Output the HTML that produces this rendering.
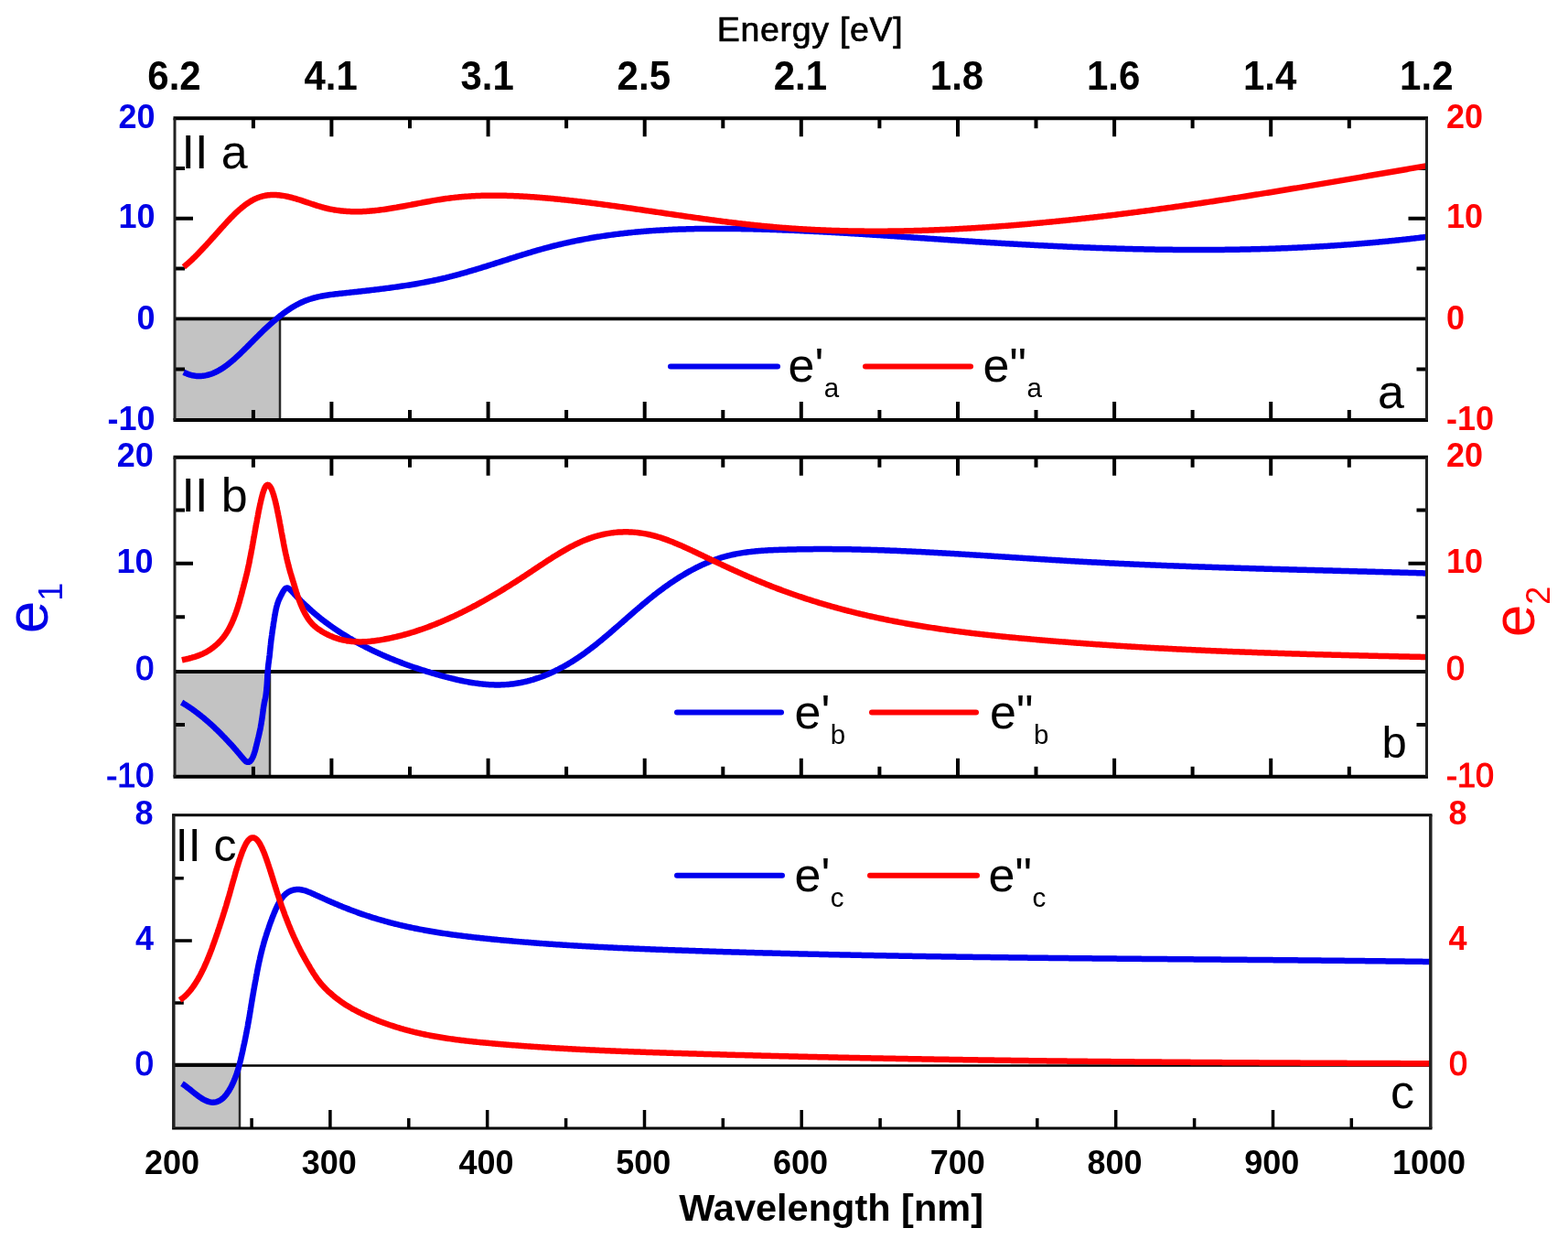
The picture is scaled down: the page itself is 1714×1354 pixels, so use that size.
<!DOCTYPE html><html><head><meta charset="utf-8"><title>Dielectric function</title><style>
html,body{margin:0;padding:0;background:#fff;width:1714px;height:1354px;overflow:hidden}
svg{display:block}
text{font-family:"Liberation Sans",Arial,sans-serif}
.b{font-weight:bold}
</style></head><body>
<svg width="1714" height="1354" viewBox="0 0 1714 1354">
<rect width="1714" height="1354" fill="#fff"/>
<rect x="191.0" y="348.4" width="115.0" height="110.6" fill="#c3c3c3"/>
<line x1="306.0" y1="348.4" x2="306.0" y2="459.0" stroke="#2a2a2a" stroke-width="2.5"/>
<line x1="191.0" y1="348.4" x2="1559.5" y2="348.4" stroke="#000" stroke-width="3.8"/>
<path d="M276.9,129.2v11.0M276.9,459.0v-11.0M362.4,129.2v20.0M362.4,459.0v-20.0M448.0,129.2v11.0M448.0,459.0v-11.0M533.6,129.2v20.0M533.6,459.0v-20.0M619.1,129.2v11.0M619.1,459.0v-11.0M704.7,129.2v20.0M704.7,459.0v-20.0M790.3,129.2v11.0M790.3,459.0v-11.0M875.8,129.2v20.0M875.8,459.0v-20.0M961.4,129.2v11.0M961.4,459.0v-11.0M1047.0,129.2v20.0M1047.0,459.0v-20.0M1132.5,129.2v11.0M1132.5,459.0v-11.0M1218.1,129.2v20.0M1218.1,459.0v-20.0M1303.6,129.2v11.0M1303.6,459.0v-11.0M1389.2,129.2v20.0M1389.2,459.0v-20.0M1474.8,129.2v11.0M1474.8,459.0v-11.0M191.0,184.1h11.0M1559.5,184.1h-11.0M191.0,238.8h20.0M1559.5,238.8h-20.0M191.0,293.6h11.0M1559.5,293.6h-11.0M191.0,403.6h11.0M1559.5,403.6h-11.0" stroke="#000" stroke-width="4.0" fill="none"/>
<path d="M200.8,406.79L202.2,407.44L203.6,408.06L205.0,408.62L206.4,409.12L207.8,409.57L209.3,409.96L210.7,410.28L212.2,410.55L213.7,410.75L215.2,410.90L216.7,410.97L218.2,410.98L219.7,410.93L221.2,410.82L222.7,410.65L224.1,410.42L225.6,410.13L227.1,409.79L228.5,409.39L230.0,408.94L231.4,408.45L232.8,407.92L234.2,407.33L235.5,406.72L236.9,406.07L238.2,405.37L239.5,404.66L240.8,403.90L242.1,403.14L243.4,402.31L244.6,401.48L245.8,400.64L247.1,399.74L248.3,398.85L249.5,397.93L250.6,397.02L251.8,396.05L253.0,395.10L254.1,394.12L255.2,393.17L256.4,392.16L257.5,391.18L258.6,390.18L259.7,389.16L260.8,388.14L261.9,387.10L263.0,386.05L264.0,385.03L265.1,383.96L266.2,382.93L267.3,381.85L268.3,380.81L269.4,379.76L270.4,378.71L271.5,377.60L272.6,376.54L273.6,375.48L274.7,374.42L275.7,373.36L276.8,372.30L277.8,371.24L278.9,370.18L280.0,369.08L281.0,368.03L282.1,366.99L283.1,365.95L284.2,364.87L285.3,363.84L286.4,362.77L287.4,361.76L288.5,360.71L289.6,359.67L290.7,358.64L291.8,357.62L292.9,356.60L294.0,355.60L295.1,354.61L296.3,353.58L297.4,352.61L298.5,351.61L299.6,350.66L300.8,349.68L301.9,348.71L303.1,347.76L304.3,346.79L305.4,345.86L306.6,344.92L307.8,344.03L309.0,343.11L310.2,342.22L311.4,341.34L312.6,340.44L313.8,339.60L315.1,338.74L316.3,337.91L317.6,337.10L318.8,336.31L320.1,335.51L321.4,334.73L322.7,333.98L324.0,333.26L325.3,332.56L326.7,331.87L328.0,331.20L329.4,330.57L330.8,329.94L332.1,329.36L333.5,328.79L334.9,328.25L336.3,327.74L337.7,327.25L339.2,326.77L340.6,326.34L342.0,325.91L343.5,325.51L344.9,325.13L346.4,324.77L347.9,324.42L349.3,324.10L350.8,323.80L352.3,323.51L353.7,323.24L355.2,322.98L356.7,322.74L358.2,322.51L359.7,322.29L361.1,322.09L362.6,321.89L364.1,321.70L365.6,321.52L367.1,321.35L368.6,321.18L370.1,321.01L371.6,320.85L373.1,320.68L374.6,320.52L376.0,320.36L377.5,320.20L379.0,320.04L380.5,319.87L382.0,319.71L383.5,319.55L385.0,319.39L386.5,319.23L388.0,319.06L389.5,318.90L391.0,318.74L392.4,318.58L393.9,318.41L395.4,318.24L396.9,318.08L398.4,317.91L399.9,317.75L401.4,317.58L402.9,317.41L404.4,317.23L405.9,317.06L407.3,316.89L408.8,316.71L410.3,316.54L411.8,316.36L413.3,316.18L414.8,316.00L416.3,315.81L417.8,315.63L419.3,315.44L420.8,315.25L422.2,315.06L423.7,314.87L425.2,314.67L426.7,314.48L428.2,314.28L429.7,314.07L431.2,313.87L432.6,313.66L434.1,313.45L435.6,313.24L437.1,313.02L438.6,312.80L440.1,312.58L441.5,312.36L443.0,312.13L444.5,311.90L446.0,311.67L447.5,311.43L449.0,311.18L450.4,310.94L451.9,310.69L453.4,310.45L454.9,310.19L456.4,309.93L457.8,309.67L459.3,309.40L460.8,309.13L462.3,308.85L463.7,308.58L465.2,308.29L466.7,308.01L468.1,307.73L469.6,307.42L471.1,307.13L472.6,306.82L474.0,306.52L475.5,306.21L477.0,305.88L478.4,305.56L479.9,305.24L481.3,304.91L482.8,304.57L484.3,304.23L485.7,303.89L487.2,303.54L488.6,303.18L490.1,302.81L491.6,302.45L493.0,302.08L494.5,301.71L495.9,301.33L497.4,300.95L498.8,300.56L500.3,300.17L501.7,299.77L503.2,299.37L504.6,298.97L506.0,298.58L507.5,298.17L508.9,297.75L510.4,297.34L511.8,296.91L513.3,296.49L514.7,296.08L516.1,295.65L517.6,295.22L519.0,294.78L520.4,294.36L521.9,293.92L523.3,293.48L524.7,293.05L526.2,292.60L527.6,292.16L529.0,291.72L530.5,291.27L531.9,290.82L533.3,290.38L534.8,289.92L536.2,289.47L537.6,289.02L539.1,288.57L540.5,288.12L541.9,287.66L543.4,287.20L544.8,286.76L546.2,286.30L547.6,285.85L549.1,285.39L550.5,284.93L551.9,284.48L553.4,284.02L554.8,283.58L556.2,283.11L557.6,282.67L559.1,282.21L560.5,281.75L561.9,281.31L563.4,280.86L564.8,280.40L566.2,279.97L567.7,279.51L569.1,279.08L570.5,278.63L572.0,278.19L573.4,277.76L574.8,277.31L576.3,276.87L577.7,276.44L579.1,276.02L580.6,275.58L582.0,275.15L583.5,274.73L584.9,274.32L586.3,273.90L587.8,273.48L589.2,273.07L590.7,272.65L592.1,272.25L593.6,271.84L595.0,271.46L596.4,271.06L597.9,270.67L599.3,270.28L600.8,269.90L602.2,269.52L603.7,269.15L605.2,268.76L606.6,268.40L608.1,268.04L609.5,267.68L611.0,267.33L612.4,266.98L613.9,266.64L615.4,266.29L616.8,265.96L618.3,265.63L619.7,265.30L621.2,264.97L622.7,264.65L624.1,264.34L625.6,264.02L627.1,263.71L628.5,263.41L630.0,263.10L631.5,262.81L633.0,262.51L634.4,262.23L635.9,261.95L637.4,261.66L638.8,261.39L640.3,261.11L641.8,260.85L643.3,260.58L644.7,260.32L646.2,260.06L647.7,259.81L649.2,259.56L650.7,259.31L652.1,259.08L653.6,258.83L655.1,258.60L656.6,258.37L658.1,258.14L659.6,257.91L661.0,257.70L662.5,257.48L664.0,257.27L665.5,257.06L667.0,256.85L668.5,256.65L670.0,256.45L671.4,256.26L672.9,256.07L674.4,255.88L675.9,255.69L677.4,255.51L678.9,255.33L680.4,255.16L681.9,254.99L683.4,254.82L684.8,254.66L686.3,254.50L687.8,254.34L689.3,254.18L690.8,254.03L692.3,253.88L693.8,253.74L695.3,253.60L696.8,253.46L698.3,253.32L699.8,253.19L701.3,253.06L702.8,252.93L704.3,252.81L705.8,252.69L707.2,252.57L708.7,252.46L710.2,252.34L711.7,252.24L713.2,252.13L714.7,252.03L716.2,251.92L717.7,251.83L719.2,251.73L720.7,251.64L722.2,251.55L723.7,251.46L725.2,251.38L726.7,251.30L728.2,251.22L729.7,251.14L731.2,251.07L732.7,251.00L734.2,250.93L735.7,250.86L737.2,250.80L738.7,250.74L740.2,250.68L741.7,250.62L743.2,250.57L744.7,250.52L746.2,250.47L747.7,250.42L749.2,250.38L750.7,250.33L752.2,250.29L753.7,250.25L755.2,250.22L756.7,250.18L758.2,250.15L759.7,250.12L761.2,250.09L762.7,250.07L764.2,250.04L765.7,250.02L767.2,250.00L768.7,249.98L770.2,249.97L771.7,249.95L773.2,249.94L774.7,249.93L776.2,249.92L777.7,249.91L779.2,249.90L780.7,249.90L782.2,249.90L783.7,249.90L785.2,249.90L786.7,249.90L788.2,249.91L789.7,249.91L791.2,249.92L792.7,249.93L794.2,249.94L795.7,249.95L797.2,249.96L798.7,249.98L800.2,249.99L801.7,250.01L803.2,250.03L804.7,250.05L806.2,250.07L807.7,250.09L809.2,250.11L810.7,250.14L812.2,250.16L813.7,250.19L815.2,250.22L816.7,250.24L818.2,250.27L819.7,250.31L821.2,250.34L822.7,250.37L824.2,250.41L825.7,250.44L827.2,250.48L828.7,250.52L830.2,250.56L831.7,250.60L833.2,250.64L834.7,250.68L836.2,250.72L837.7,250.77L839.2,250.81L840.7,250.86L842.2,250.91L843.7,250.95L845.2,251.00L846.7,251.05L848.2,251.11L849.7,251.16L851.2,251.21L852.7,251.26L854.2,251.32L855.7,251.38L857.2,251.43L858.7,251.49L860.2,251.55L861.7,251.61L863.2,251.67L864.7,251.73L866.2,251.79L867.7,251.86L869.1,251.92L870.6,251.98L872.1,252.05L873.6,252.11L875.1,252.18L876.6,252.25L878.1,252.32L879.6,252.39L881.1,252.46L882.6,252.53L884.1,252.60L885.6,252.67L887.1,252.75L888.6,252.82L890.1,252.89L891.6,252.97L893.1,253.05L894.6,253.12L896.1,253.20L897.6,253.28L899.1,253.36L900.6,253.44L902.1,253.52L903.6,253.60L905.1,253.68L906.6,253.76L908.1,253.84L909.6,253.92L911.1,254.01L912.6,254.09L914.1,254.18L915.6,254.26L917.1,254.35L918.6,254.43L920.1,254.52L921.6,254.61L923.1,254.70L924.6,254.79L926.1,254.87L927.6,254.96L929.1,255.05L930.6,255.14L932.1,255.24L933.6,255.33L935.1,255.42L936.6,255.51L938.1,255.60L939.5,255.69L941.0,255.79L942.5,255.88L944.0,255.98L945.5,256.07L947.0,256.17L948.5,256.26L950.0,256.36L951.5,256.45L953.0,256.55L954.5,256.65L956.0,256.74L957.5,256.84L959.0,256.94L960.5,257.04L962.0,257.13L963.5,257.23L965.0,257.33L966.5,257.43L968.0,257.53L969.5,257.63L971.0,257.73L972.5,257.83L974.0,257.93L975.5,258.03L977.0,258.13L978.5,258.23L980.0,258.33L981.5,258.43L983.0,258.53L984.5,258.63L985.9,258.73L987.4,258.83L988.9,258.93L990.4,259.04L991.9,259.14L993.4,259.24L994.9,259.34L996.4,259.44L997.9,259.55L999.4,259.65L1000.9,259.75L1002.4,259.85L1003.9,259.96L1005.4,260.06L1006.9,260.16L1008.4,260.26L1009.9,260.36L1011.4,260.46L1012.9,260.57L1014.4,260.67L1015.9,260.77L1017.4,260.87L1018.9,260.97L1020.4,261.08L1021.9,261.18L1023.4,261.28L1024.9,261.38L1026.4,261.48L1027.9,261.59L1029.3,261.68L1030.8,261.78L1032.3,261.89L1033.8,261.99L1035.3,262.09L1036.8,262.19L1038.3,262.29L1039.8,262.39L1041.3,262.49L1042.8,262.59L1044.3,262.69L1045.8,262.79L1047.3,262.89L1048.8,262.99L1050.3,263.08L1051.8,263.18L1053.3,263.28L1054.8,263.38L1056.3,263.47L1057.8,263.57L1059.3,263.67L1060.8,263.76L1062.3,263.86L1063.8,263.96L1065.3,264.05L1066.8,264.15L1068.3,264.24L1069.8,264.34L1071.3,264.43L1072.8,264.53L1074.3,264.62L1075.7,264.71L1077.2,264.80L1078.7,264.89L1080.2,264.99L1081.7,265.08L1083.2,265.17L1084.7,265.26L1086.2,265.35L1087.7,265.44L1089.2,265.53L1090.7,265.62L1092.2,265.71L1093.7,265.80L1095.2,265.89L1096.7,265.98L1098.2,266.07L1099.7,266.15L1101.2,266.24L1102.7,266.33L1104.2,266.41L1105.7,266.50L1107.2,266.58L1108.7,266.67L1110.2,266.75L1111.7,266.84L1113.2,266.92L1114.7,267.00L1116.2,267.09L1117.7,267.17L1119.2,267.25L1120.7,267.33L1122.2,267.41L1123.7,267.50L1125.2,267.58L1126.7,267.66L1128.2,267.74L1129.7,267.81L1131.2,267.89L1132.7,267.97L1134.2,268.05L1135.7,268.13L1137.1,268.20L1138.6,268.28L1140.1,268.35L1141.6,268.43L1143.1,268.50L1144.6,268.58L1146.1,268.65L1147.6,268.72L1149.1,268.80L1150.6,268.87L1152.1,268.94L1153.6,269.01L1155.1,269.08L1156.6,269.15L1158.1,269.22L1159.6,269.29L1161.1,269.36L1162.6,269.43L1164.1,269.50L1165.6,269.56L1167.1,269.63L1168.6,269.70L1170.1,269.76L1171.6,269.83L1173.1,269.89L1174.6,269.95L1176.1,270.02L1177.6,270.08L1179.1,270.14L1180.6,270.20L1182.1,270.27L1183.6,270.33L1185.1,270.38L1186.6,270.44L1188.1,270.50L1189.6,270.56L1191.1,270.62L1192.6,270.67L1194.1,270.73L1195.6,270.79L1197.1,270.84L1198.6,270.90L1200.1,270.95L1201.6,271.00L1203.1,271.06L1204.6,271.11L1206.1,271.16L1207.6,271.21L1209.1,271.26L1210.6,271.31L1212.1,271.36L1213.6,271.41L1215.1,271.46L1216.6,271.50L1218.1,271.55L1219.6,271.60L1221.1,271.64L1222.6,271.68L1224.1,271.73L1225.6,271.77L1227.1,271.81L1228.6,271.86L1230.1,271.90L1231.6,271.94L1233.1,271.98L1234.6,272.02L1236.1,272.06L1237.6,272.09L1239.1,272.13L1240.6,272.17L1242.1,272.20L1243.6,272.24L1245.1,272.27L1246.6,272.30L1248.1,272.34L1249.6,272.37L1251.1,272.40L1252.6,272.43L1254.1,272.46L1255.6,272.49L1257.1,272.52L1258.6,272.55L1260.1,272.57L1261.6,272.60L1263.1,272.63L1264.6,272.65L1266.1,272.67L1267.6,272.70L1269.1,272.72L1270.6,272.74L1272.1,272.76L1273.6,272.78L1275.1,272.80L1276.6,272.82L1278.1,272.84L1279.6,272.86L1281.1,272.87L1282.6,272.89L1284.1,272.90L1285.6,272.92L1287.1,272.93L1288.6,272.94L1290.1,272.95L1291.6,272.97L1293.1,272.98L1294.6,272.98L1296.1,272.99L1297.6,273.00L1299.1,273.01L1300.6,273.01L1302.1,273.02L1303.6,273.02L1305.1,273.03L1306.6,273.03L1308.1,273.03L1309.6,273.03L1311.1,273.03L1312.6,273.03L1314.1,273.03L1315.6,273.03L1317.1,273.02L1318.6,273.02L1320.1,273.01L1321.6,273.01L1323.1,273.00L1324.6,272.99L1326.1,272.98L1327.6,272.98L1329.1,272.96L1330.6,272.95L1332.1,272.94L1333.6,272.93L1335.1,272.91L1336.6,272.90L1338.1,272.88L1339.6,272.87L1341.1,272.85L1342.6,272.83L1344.1,272.81L1345.6,272.79L1347.1,272.77L1348.6,272.75L1350.1,272.73L1351.6,272.70L1353.1,272.68L1354.6,272.65L1356.1,272.62L1357.6,272.60L1359.1,272.57L1360.6,272.54L1362.1,272.51L1363.6,272.47L1365.1,272.44L1366.6,272.41L1368.1,272.37L1369.6,272.34L1371.1,272.30L1372.6,272.26L1374.1,272.23L1375.6,272.19L1377.1,272.15L1378.6,272.11L1380.1,272.06L1381.6,272.02L1383.1,271.97L1384.6,271.93L1386.1,271.88L1387.6,271.84L1389.1,271.79L1390.5,271.74L1392.0,271.69L1393.5,271.64L1395.0,271.59L1396.5,271.53L1398.0,271.48L1399.5,271.42L1401.0,271.36L1402.5,271.31L1404.0,271.25L1405.5,271.19L1407.0,271.13L1408.5,271.07L1410.0,271.00L1411.5,270.94L1413.0,270.87L1414.5,270.81L1416.0,270.74L1417.5,270.67L1419.0,270.60L1420.5,270.53L1422.0,270.46L1423.5,270.39L1425.0,270.31L1426.5,270.24L1428.0,270.16L1429.5,270.09L1431.0,270.01L1432.5,269.93L1434.0,269.85L1435.5,269.77L1437.0,269.69L1438.5,269.60L1440.0,269.52L1441.5,269.43L1443.0,269.35L1444.5,269.26L1446.0,269.17L1447.5,269.08L1449.0,268.99L1450.5,268.89L1452.0,268.80L1453.5,268.71L1455.0,268.61L1456.5,268.51L1458.0,268.41L1459.5,268.31L1461.0,268.21L1462.5,268.11L1464.0,268.01L1465.4,267.91L1466.9,267.80L1468.4,267.69L1469.9,267.59L1471.4,267.48L1472.9,267.37L1474.4,267.26L1475.9,267.14L1477.4,267.03L1478.9,266.91L1480.4,266.80L1481.9,266.68L1483.4,266.57L1484.9,266.45L1486.4,266.32L1487.9,266.20L1489.4,266.08L1490.9,265.95L1492.4,265.83L1493.9,265.70L1495.4,265.57L1496.9,265.44L1498.3,265.32L1499.8,265.18L1501.3,265.05L1502.8,264.91L1504.3,264.78L1505.8,264.64L1507.3,264.50L1508.8,264.36L1510.3,264.23L1511.8,264.08L1513.3,263.94L1514.8,263.80L1516.3,263.65L1517.8,263.50L1519.3,263.35L1520.7,263.21L1522.2,263.06L1523.7,262.90L1525.2,262.75L1526.7,262.59L1528.2,262.44L1529.7,262.29L1531.2,262.13L1532.7,261.97L1534.2,261.80L1535.7,261.64L1537.2,261.48L1538.6,261.32L1540.1,261.15L1541.6,260.98L1543.1,260.81L1544.6,260.64L1546.1,260.47L1547.6,260.30L1549.1,260.12L1550.6,259.95L1552.1,259.77L1553.5,259.60L1555.0,259.41L1556.5,259.23L1558.0,259.05L1559.5,258.86L1559.6,258.85" stroke="#0000ee" stroke-width="6.5" fill="none" stroke-linejoin="round"/>
<path d="M200.8,291.78L202.0,290.78L203.1,289.85L204.3,288.85L205.4,287.83L206.5,286.84L207.6,285.83L208.7,284.81L209.8,283.77L210.9,282.77L212.0,281.70L213.0,280.67L214.1,279.58L215.2,278.52L216.2,277.46L217.3,276.38L218.3,275.29L219.3,274.25L220.4,273.15L221.4,272.04L222.4,270.97L223.5,269.84L224.5,268.76L225.5,267.68L226.5,266.53L227.5,265.44L228.5,264.34L229.5,263.24L230.5,262.13L231.5,261.02L232.6,259.85L233.6,258.73L234.6,257.62L235.6,256.50L236.6,255.38L237.6,254.26L238.6,253.14L239.6,252.02L240.6,250.90L241.6,249.79L242.6,248.67L243.6,247.56L244.6,246.46L245.6,245.36L246.6,244.27L247.6,243.12L248.6,242.05L249.6,240.98L250.7,239.86L251.7,238.76L252.8,237.68L253.8,236.61L254.9,235.55L255.9,234.51L257.0,233.48L258.1,232.43L259.2,231.40L260.3,230.39L261.4,229.40L262.5,228.40L263.7,227.42L264.8,226.47L266.0,225.55L267.2,224.62L268.4,223.72L269.6,222.85L270.8,221.99L272.1,221.16L273.3,220.37L274.6,219.59L275.9,218.86L277.3,218.14L278.6,217.47L280.0,216.86L281.4,216.27L282.8,215.74L284.2,215.26L285.6,214.81L287.1,214.42L288.5,214.08L290.0,213.78L291.5,213.53L293.0,213.33L294.4,213.18L295.9,213.07L297.4,213.01L298.9,212.99L300.4,213.00L301.9,213.06L303.4,213.16L304.9,213.29L306.4,213.46L307.9,213.66L309.4,213.88L310.9,214.14L312.3,214.42L313.8,214.73L315.3,215.05L316.7,215.40L318.2,215.76L319.6,216.14L321.1,216.54L322.5,216.95L324.0,217.38L325.4,217.82L326.8,218.25L328.3,218.71L329.7,219.16L331.1,219.64L332.5,220.10L334.0,220.58L335.4,221.05L336.8,221.54L338.2,222.01L339.7,222.49L341.1,222.96L342.5,223.44L343.9,223.89L345.4,224.36L346.8,224.80L348.2,225.24L349.7,225.68L351.1,226.09L352.5,226.50L354.0,226.89L355.4,227.27L356.9,227.63L358.4,227.98L359.8,228.30L361.3,228.61L362.8,228.90L364.2,229.17L365.7,229.43L367.2,229.66L368.7,229.88L370.2,230.08L371.7,230.27L373.1,230.43L374.6,230.59L376.1,230.72L377.6,230.84L379.1,230.95L380.6,231.04L382.1,231.11L383.6,231.17L385.1,231.21L386.6,231.24L388.1,231.26L389.6,231.26L391.1,231.25L392.6,231.22L394.1,231.19L395.6,231.14L397.1,231.07L398.6,231.00L400.1,230.92L401.6,230.82L403.1,230.71L404.6,230.60L406.1,230.47L407.6,230.34L409.1,230.19L410.6,230.03L412.1,229.87L413.5,229.70L415.0,229.52L416.5,229.33L418.0,229.13L419.5,228.92L421.0,228.72L422.5,228.50L424.0,228.28L425.4,228.05L426.9,227.81L428.4,227.58L429.9,227.33L431.4,227.08L432.8,226.83L434.3,226.57L435.8,226.31L437.3,226.05L438.7,225.78L440.2,225.51L441.7,225.24L443.2,224.96L444.6,224.68L446.1,224.40L447.6,224.12L449.1,223.84L450.5,223.56L452.0,223.27L453.5,222.99L455.0,222.70L456.4,222.42L457.9,222.14L459.4,221.86L460.8,221.58L462.3,221.30L463.8,221.03L465.3,220.75L466.7,220.48L468.2,220.20L469.7,219.94L471.2,219.67L472.7,219.41L474.1,219.16L475.6,218.90L477.1,218.66L478.6,218.41L480.0,218.18L481.5,217.94L483.0,217.71L484.5,217.50L486.0,217.28L487.5,217.07L489.0,216.86L490.4,216.67L491.9,216.48L493.4,216.30L494.9,216.12L496.4,215.96L497.9,215.80L499.4,215.64L500.9,215.49L502.4,215.35L503.9,215.21L505.4,215.08L506.8,214.96L508.3,214.84L509.8,214.73L511.3,214.62L512.8,214.52L514.3,214.42L515.8,214.34L517.3,214.25L518.8,214.18L520.3,214.10L521.8,214.04L523.3,213.98L524.8,213.92L526.3,213.87L527.8,213.83L529.3,213.79L530.8,213.76L532.3,213.73L533.8,213.71L535.3,213.69L536.8,213.67L538.3,213.67L539.8,213.66L541.3,213.66L542.8,213.67L544.3,213.68L545.8,213.69L547.3,213.71L548.8,213.74L550.3,213.77L551.8,213.80L553.3,213.83L554.8,213.88L556.3,213.92L557.8,213.97L559.3,214.02L560.8,214.08L562.3,214.14L563.8,214.20L565.3,214.27L566.8,214.34L568.3,214.42L569.8,214.50L571.3,214.58L572.8,214.66L574.3,214.75L575.8,214.84L577.3,214.94L578.8,215.04L580.3,215.14L581.8,215.24L583.3,215.35L584.8,215.46L586.3,215.57L587.8,215.69L589.3,215.81L590.7,215.93L592.2,216.05L593.7,216.17L595.2,216.30L596.7,216.43L598.2,216.57L599.7,216.70L601.2,216.84L602.7,216.98L604.2,217.11L605.7,217.26L607.2,217.40L608.7,217.55L610.2,217.70L611.7,217.85L613.2,218.00L614.6,218.15L616.1,218.31L617.6,218.47L619.1,218.63L620.6,218.79L622.1,218.95L623.6,219.11L625.1,219.28L626.6,219.45L628.1,219.62L629.6,219.79L631.0,219.96L632.5,220.13L634.0,220.31L635.5,220.48L637.0,220.66L638.5,220.84L640.0,221.02L641.5,221.20L643.0,221.39L644.4,221.57L645.9,221.75L647.4,221.94L648.9,222.13L650.4,222.32L651.9,222.51L653.4,222.70L654.9,222.90L656.4,223.09L657.8,223.28L659.3,223.48L660.8,223.68L662.3,223.88L663.8,224.08L665.3,224.28L666.8,224.48L668.2,224.68L669.7,224.88L671.2,225.09L672.7,225.29L674.2,225.49L675.7,225.70L677.2,225.91L678.6,226.11L680.1,226.32L681.6,226.53L683.1,226.75L684.6,226.95L686.1,227.16L687.6,227.38L689.0,227.58L690.5,227.80L692.0,228.01L693.5,228.22L695.0,228.44L696.5,228.66L698.0,228.87L699.4,229.08L700.9,229.30L702.4,229.52L703.9,229.73L705.4,229.95L706.9,230.17L708.3,230.38L709.8,230.60L711.3,230.82L712.8,231.03L714.3,231.25L715.8,231.47L717.2,231.68L718.7,231.90L720.2,232.12L721.7,232.34L723.2,232.55L724.7,232.77L726.2,232.99L727.6,233.21L729.1,233.43L730.6,233.65L732.1,233.86L733.6,234.08L735.1,234.30L736.5,234.51L738.0,234.73L739.5,234.94L741.0,235.15L742.5,235.37L744.0,235.59L745.4,235.80L746.9,236.01L748.4,236.23L749.9,236.45L751.4,236.65L752.9,236.87L754.4,237.08L755.8,237.29L757.3,237.50L758.8,237.71L760.3,237.92L761.8,238.13L763.3,238.34L764.8,238.55L766.2,238.75L767.7,238.96L769.2,239.16L770.7,239.36L772.2,239.57L773.7,239.77L775.2,239.98L776.6,240.17L778.1,240.37L779.6,240.57L781.1,240.77L782.6,240.97L784.1,241.16L785.6,241.36L787.1,241.55L788.5,241.74L790.0,241.94L791.5,242.13L793.0,242.32L794.5,242.50L796.0,242.69L797.5,242.88L799.0,243.06L800.4,243.24L801.9,243.42L803.4,243.60L804.9,243.78L806.4,243.96L807.9,244.13L809.4,244.31L810.9,244.48L812.4,244.66L813.9,244.83L815.3,244.99L816.8,245.16L818.3,245.33L819.8,245.49L821.3,245.65L822.8,245.81L824.3,245.97L825.8,246.13L827.3,246.28L828.8,246.44L830.3,246.59L831.8,246.74L833.2,246.88L834.7,247.03L836.2,247.17L837.7,247.32L839.2,247.46L840.7,247.59L842.2,247.73L843.7,247.86L845.2,247.99L846.7,248.12L848.2,248.25L849.7,248.38L851.2,248.50L852.7,248.63L854.2,248.75L855.7,248.87L857.2,248.98L858.6,249.09L860.1,249.21L861.6,249.32L863.1,249.43L864.6,249.53L866.1,249.64L867.6,249.74L869.1,249.84L870.6,249.94L872.1,250.04L873.6,250.14L875.1,250.23L876.6,250.32L878.1,250.41L879.6,250.50L881.1,250.58L882.6,250.67L884.1,250.75L885.6,250.83L887.1,250.91L888.6,250.99L890.1,251.06L891.6,251.14L893.1,251.21L894.6,251.28L896.1,251.35L897.6,251.41L899.1,251.48L900.6,251.54L902.1,251.60L903.6,251.66L905.1,251.72L906.6,251.77L908.1,251.83L909.6,251.88L911.1,251.93L912.6,251.98L914.1,252.03L915.6,252.07L917.1,252.12L918.6,252.16L920.1,252.20L921.6,252.24L923.1,252.27L924.6,252.31L926.1,252.34L927.6,252.38L929.1,252.41L930.6,252.44L932.1,252.46L933.6,252.49L935.1,252.51L936.6,252.53L938.1,252.56L939.6,252.57L941.1,252.59L942.6,252.61L944.1,252.62L945.6,252.64L947.1,252.65L948.6,252.66L950.1,252.66L951.6,252.67L953.1,252.68L954.6,252.68L956.1,252.68L957.6,252.68L959.1,252.68L960.6,252.68L962.1,252.67L963.6,252.67L965.1,252.66L966.6,252.65L968.1,252.64L969.6,252.63L971.1,252.62L972.6,252.60L974.1,252.59L975.6,252.57L977.1,252.55L978.6,252.53L980.1,252.51L981.6,252.49L983.1,252.46L984.6,252.44L986.1,252.41L987.6,252.38L989.1,252.35L990.6,252.32L992.1,252.29L993.6,252.25L995.1,252.22L996.6,252.18L998.1,252.14L999.6,252.10L1001.1,252.06L1002.6,252.02L1004.1,251.98L1005.6,251.93L1007.1,251.89L1008.5,251.84L1010.0,251.79L1011.5,251.74L1013.0,251.69L1014.5,251.64L1016.0,251.59L1017.5,251.53L1019.0,251.47L1020.5,251.42L1022.0,251.36L1023.5,251.30L1025.0,251.24L1026.5,251.17L1028.0,251.11L1029.5,251.05L1031.0,250.98L1032.5,250.91L1034.0,250.84L1035.5,250.77L1037.0,250.70L1038.5,250.63L1040.0,250.56L1041.5,250.48L1043.0,250.41L1044.5,250.33L1046.0,250.25L1047.5,250.18L1049.0,250.10L1050.5,250.01L1052.0,249.93L1053.5,249.85L1055.0,249.77L1056.5,249.68L1058.0,249.60L1059.5,249.51L1061.0,249.42L1062.5,249.33L1064.0,249.24L1065.5,249.15L1067.0,249.05L1068.5,248.96L1070.0,248.86L1071.5,248.77L1073.0,248.67L1074.5,248.57L1076.0,248.47L1077.5,248.37L1079.0,248.27L1080.5,248.17L1081.9,248.07L1083.4,247.97L1084.9,247.86L1086.4,247.75L1087.9,247.65L1089.4,247.54L1090.9,247.43L1092.4,247.32L1093.9,247.21L1095.4,247.09L1096.9,246.98L1098.4,246.87L1099.9,246.75L1101.4,246.64L1102.9,246.52L1104.4,246.40L1105.9,246.28L1107.4,246.16L1108.9,246.04L1110.4,245.92L1111.9,245.79L1113.4,245.67L1114.9,245.54L1116.3,245.42L1117.8,245.30L1119.3,245.17L1120.8,245.04L1122.3,244.91L1123.8,244.78L1125.3,244.65L1126.8,244.51L1128.3,244.38L1129.8,244.25L1131.3,244.11L1132.8,243.98L1134.3,243.84L1135.8,243.70L1137.3,243.56L1138.8,243.42L1140.3,243.28L1141.7,243.14L1143.2,243.00L1144.7,242.86L1146.2,242.71L1147.7,242.57L1149.2,242.42L1150.7,242.28L1152.2,242.13L1153.7,241.98L1155.2,241.83L1156.7,241.68L1158.2,241.53L1159.7,241.38L1161.2,241.23L1162.6,241.08L1164.1,240.92L1165.6,240.77L1167.1,240.61L1168.6,240.45L1170.1,240.30L1171.6,240.14L1173.1,239.98L1174.6,239.82L1176.1,239.66L1177.6,239.50L1179.1,239.34L1180.5,239.18L1182.0,239.01L1183.5,238.85L1185.0,238.68L1186.5,238.51L1188.0,238.35L1189.5,238.18L1191.0,238.01L1192.5,237.84L1194.0,237.67L1195.4,237.51L1196.9,237.33L1198.4,237.16L1199.9,236.99L1201.4,236.81L1202.9,236.64L1204.4,236.47L1205.9,236.29L1207.4,236.11L1208.9,235.93L1210.3,235.76L1211.8,235.58L1213.3,235.40L1214.8,235.22L1216.3,235.04L1217.8,234.86L1219.3,234.68L1220.8,234.49L1222.3,234.31L1223.7,234.13L1225.2,233.94L1226.7,233.76L1228.2,233.57L1229.7,233.38L1231.2,233.20L1232.7,233.01L1234.2,232.82L1235.7,232.63L1237.1,232.44L1238.6,232.25L1240.1,232.05L1241.6,231.86L1243.1,231.67L1244.6,231.48L1246.1,231.28L1247.6,231.09L1249.0,230.90L1250.5,230.70L1252.0,230.50L1253.5,230.30L1255.0,230.11L1256.5,229.91L1258.0,229.71L1259.5,229.50L1260.9,229.31L1262.4,229.11L1263.9,228.90L1265.4,228.71L1266.9,228.50L1268.4,228.30L1269.9,228.09L1271.3,227.89L1272.8,227.68L1274.3,227.48L1275.8,227.28L1277.3,227.07L1278.8,226.86L1280.3,226.65L1281.7,226.44L1283.2,226.23L1284.7,226.02L1286.2,225.82L1287.7,225.60L1289.2,225.39L1290.7,225.18L1292.1,224.97L1293.6,224.76L1295.1,224.54L1296.6,224.33L1298.1,224.12L1299.6,223.90L1301.0,223.69L1302.5,223.47L1304.0,223.25L1305.5,223.04L1307.0,222.82L1308.5,222.60L1309.9,222.39L1311.4,222.17L1312.9,221.94L1314.4,221.72L1315.9,221.51L1317.4,221.28L1318.9,221.06L1320.3,220.84L1321.8,220.62L1323.3,220.39L1324.8,220.18L1326.3,219.95L1327.8,219.72L1329.2,219.50L1330.7,219.28L1332.2,219.05L1333.7,218.83L1335.2,218.60L1336.7,218.37L1338.1,218.15L1339.6,217.92L1341.1,217.70L1342.6,217.46L1344.1,217.23L1345.5,217.01L1347.0,216.78L1348.5,216.54L1350.0,216.32L1351.5,216.09L1353.0,215.85L1354.4,215.62L1355.9,215.39L1357.4,215.16L1358.9,214.93L1360.4,214.69L1361.8,214.46L1363.3,214.23L1364.8,213.99L1366.3,213.76L1367.8,213.52L1369.3,213.28L1370.7,213.05L1372.2,212.81L1373.7,212.58L1375.2,212.34L1376.7,212.10L1378.1,211.87L1379.6,211.63L1381.1,211.39L1382.6,211.16L1384.1,210.91L1385.5,210.68L1387.0,210.44L1388.5,210.20L1390.0,209.96L1391.5,209.72L1393.0,209.47L1394.4,209.24L1395.9,208.99L1397.4,208.76L1398.9,208.51L1400.4,208.27L1401.8,208.03L1403.3,207.78L1404.8,207.55L1406.3,207.30L1407.8,207.05L1409.2,206.81L1410.7,206.57L1412.2,206.33L1413.7,206.08L1415.2,205.83L1416.6,205.59L1418.1,205.34L1419.6,205.10L1421.1,204.85L1422.6,204.60L1424.0,204.36L1425.5,204.11L1427.0,203.87L1428.5,203.62L1430.0,203.37L1431.4,203.13L1432.9,202.88L1434.4,202.63L1435.9,202.38L1437.3,202.14L1438.8,201.89L1440.3,201.63L1441.8,201.39L1443.3,201.14L1444.7,200.89L1446.2,200.64L1447.7,200.39L1449.2,200.14L1450.7,199.89L1452.1,199.64L1453.6,199.39L1455.1,199.14L1456.6,198.89L1458.1,198.63L1459.5,198.39L1461.0,198.13L1462.5,197.89L1464.0,197.63L1465.4,197.38L1466.9,197.13L1468.4,196.87L1469.9,196.63L1471.4,196.37L1472.8,196.12L1474.3,195.87L1475.8,195.62L1477.3,195.36L1478.8,195.11L1480.2,194.86L1481.7,194.60L1483.2,194.35L1484.7,194.09L1486.1,193.85L1487.6,193.59L1489.1,193.33L1490.6,193.08L1492.1,192.83L1493.5,192.58L1495.0,192.32L1496.5,192.07L1498.0,191.81L1499.5,191.55L1500.9,191.30L1502.4,191.05L1503.9,190.80L1505.4,190.54L1506.8,190.29L1508.3,190.03L1509.8,189.77L1511.3,189.52L1512.8,189.26L1514.2,189.01L1515.7,188.75L1517.2,188.50L1518.7,188.24L1520.1,187.99L1521.6,187.74L1523.1,187.48L1524.6,187.23L1526.1,186.97L1527.5,186.72L1529.0,186.46L1530.5,186.21L1532.0,185.95L1533.5,185.69L1534.9,185.44L1536.4,185.18L1537.9,184.93L1539.4,184.67L1540.8,184.42L1542.3,184.16L1543.8,183.91L1545.3,183.65L1546.8,183.39L1548.2,183.14L1549.7,182.89L1551.2,182.64L1552.7,182.38L1554.1,182.13L1555.6,181.87L1557.1,181.61L1558.6,181.36L1559.6,181.18" stroke="#ff0000" stroke-width="6.5" fill="none" stroke-linejoin="round"/>
<path d="M189.5,129.2H1561.0M189.5,459.0H1561.0" stroke="#000" stroke-width="4.0" fill="none"/>
<path d="M191.0,129.2V459.0M1559.5,129.2V459.0" stroke="#222" stroke-width="3.0" fill="none"/>
<rect x="191.0" y="734.0" width="104.0" height="114.8" fill="#c3c3c3"/>
<line x1="295.0" y1="734.0" x2="295.0" y2="848.8" stroke="#2a2a2a" stroke-width="2.5"/>
<line x1="191.0" y1="734.0" x2="1559.5" y2="734.0" stroke="#000" stroke-width="3.8"/>
<path d="M276.9,499.7v11.0M276.9,848.8v-11.0M362.4,499.7v20.0M362.4,848.8v-20.0M448.0,499.7v11.0M448.0,848.8v-11.0M533.6,499.7v20.0M533.6,848.8v-20.0M619.1,499.7v11.0M619.1,848.8v-11.0M704.7,499.7v20.0M704.7,848.8v-20.0M790.3,499.7v11.0M790.3,848.8v-11.0M875.8,499.7v20.0M875.8,848.8v-20.0M961.4,499.7v11.0M961.4,848.8v-11.0M1047.0,499.7v20.0M1047.0,848.8v-20.0M1132.5,499.7v11.0M1132.5,848.8v-11.0M1218.1,499.7v20.0M1218.1,848.8v-20.0M1303.6,499.7v11.0M1303.6,848.8v-11.0M1389.2,499.7v20.0M1389.2,848.8v-20.0M1474.8,499.7v11.0M1474.8,848.8v-11.0M191.0,557.4h11.0M1559.5,557.4h-11.0M191.0,615.8h20.0M1559.5,615.8h-20.0M191.0,674.3h11.0M1559.5,674.3h-11.0M191.0,792.0h11.0M1559.5,792.0h-11.0" stroke="#000" stroke-width="4.0" fill="none"/>
<path d="M198.6,767.64L199.9,768.41L201.2,769.19L202.5,770.00L203.8,770.79L205.0,771.59L206.3,772.42L207.5,773.26L208.8,774.11L210.0,774.95L211.2,775.84L212.4,776.71L213.6,777.59L214.8,778.49L216.0,779.40L217.2,780.32L218.4,781.26L219.6,782.18L220.7,783.11L221.9,784.09L223.1,785.04L224.2,786.01L225.4,786.98L226.5,787.93L227.6,788.94L228.7,789.91L229.9,790.93L231.0,791.93L232.1,792.93L233.2,793.95L234.3,794.98L235.4,796.02L236.5,797.07L237.5,798.08L238.6,799.15L239.7,800.18L240.8,801.27L241.8,802.32L242.9,803.38L243.9,804.45L245.0,805.53L246.0,806.62L247.0,807.66L248.1,808.77L249.1,809.89L250.1,810.96L251.1,812.04L252.2,813.18L253.2,814.28L254.2,815.39L255.2,816.50L256.2,817.63L257.2,818.77L258.2,819.91L259.1,821.01L260.1,822.17L261.1,823.29L262.1,824.48L263.0,825.61L264.0,826.76L264.9,827.91L265.9,829.07L266.9,830.23L267.9,831.26L269.0,832.21L270.4,832.86L271.9,832.85L273.2,832.16L274.2,831.09L275.1,829.79L275.8,828.52L276.5,827.13L277.0,825.78L277.6,824.29L278.0,822.94L278.5,821.49L278.9,820.10L279.3,818.64L279.7,817.12L280.0,815.74L280.4,814.12L280.8,812.67L281.1,811.21L281.5,809.73L281.8,808.25L282.1,806.99L282.5,805.52L282.8,804.05L283.2,802.56L283.5,801.04L283.8,799.70L284.2,798.08L284.5,796.62L284.8,795.10L285.0,793.78L285.3,792.11L285.6,790.64L285.8,789.11L286.0,787.82L286.3,786.14L286.5,784.74L286.7,783.30L286.9,781.84L287.1,780.37L287.3,778.90L287.5,777.43L287.7,775.99L287.9,774.22L288.1,772.86L288.3,771.56L288.6,770.02L288.9,768.35L289.1,767.12L289.5,765.55L289.8,764.00L290.1,762.57L290.4,761.20L290.6,759.61L290.8,758.14L291.0,756.45L291.2,755.02L291.3,753.44L291.4,752.29L291.6,750.42L291.7,749.06L291.8,747.62L291.9,746.09L292.0,744.51L292.1,742.89L292.2,741.25L292.3,739.62L292.3,738.82L292.4,737.24L292.5,735.72L292.6,734.28L292.8,732.32L292.9,731.12L293.0,729.48L293.2,728.01L293.3,726.67L293.5,725.04L293.7,723.90L293.9,722.09L294.1,720.63L294.3,719.11L294.5,717.88L294.7,716.10L294.8,714.68L295.0,713.22L295.1,711.73L295.3,710.22L295.4,708.72L295.6,707.24L295.7,705.80L295.9,704.41L296.1,702.64L296.2,701.37L296.4,699.74L296.6,698.56L296.8,697.03L297.0,695.55L297.2,694.10L297.4,692.33L297.6,690.92L297.8,689.51L298.0,688.12L298.3,686.38L298.5,685.01L298.7,683.65L298.9,681.97L299.1,680.65L299.4,679.02L299.6,677.74L299.8,676.17L300.1,674.65L300.3,673.17L300.6,671.74L300.8,670.35L301.1,668.77L301.4,667.27L301.7,665.86L302.0,664.54L302.4,662.91L302.8,661.60L303.2,660.06L303.7,658.67L304.2,657.27L304.7,655.88L305.3,654.51L306.0,653.15L306.6,651.87L307.3,650.51L308.0,649.15L308.7,647.81L309.4,646.53L310.2,645.29L311.1,644.04L312.1,643.03L313.5,642.50L315.0,642.77L316.3,643.55L317.4,644.55L318.5,645.62L319.5,646.70L320.5,647.80L321.5,648.93L322.5,650.00L323.6,651.11L324.6,652.21L325.6,653.25L326.7,654.32L327.7,655.38L328.8,656.49L329.9,657.53L330.9,658.56L332.0,659.62L333.1,660.68L334.2,661.67L335.3,662.70L336.4,663.72L337.5,664.73L338.6,665.77L339.7,666.75L340.8,667.72L342.0,668.73L343.1,669.72L344.3,670.70L345.4,671.67L346.6,672.63L347.7,673.57L348.9,674.51L350.0,675.43L351.2,676.38L352.4,677.28L353.6,678.21L354.8,679.13L356.0,680.04L357.2,680.94L358.4,681.82L359.6,682.70L360.8,683.60L362.0,684.45L363.3,685.33L364.5,686.16L365.7,687.02L367.0,687.87L368.2,688.71L369.5,689.53L370.7,690.35L372.0,691.16L373.2,691.96L374.5,692.78L375.8,693.56L377.1,694.36L378.3,695.13L379.6,695.91L380.9,696.69L382.2,697.45L383.5,698.21L384.8,698.93L386.1,699.71L387.4,700.44L388.7,701.17L390.0,701.89L391.3,702.60L392.7,703.34L394.0,704.04L395.3,704.76L396.6,705.44L398.0,706.14L399.3,706.82L400.6,707.51L402.0,708.19L403.3,708.86L404.7,709.53L406.0,710.19L407.4,710.85L408.7,711.50L410.1,712.14L411.4,712.77L412.8,713.40L414.1,714.02L415.5,714.66L416.9,715.27L418.2,715.87L419.6,716.49L421.0,717.08L422.4,717.68L423.7,718.26L425.1,718.85L426.5,719.43L427.9,719.99L429.3,720.56L430.7,721.13L432.1,721.69L433.5,722.25L434.9,722.79L436.3,723.34L437.7,723.87L439.1,724.40L440.5,724.93L441.9,725.45L443.3,725.96L444.7,726.47L446.1,726.98L447.5,727.49L448.9,727.98L450.3,728.47L451.8,728.97L453.2,729.45L454.6,729.94L456.0,730.41L457.5,730.89L458.9,731.34L460.3,731.81L461.7,732.26L463.2,732.72L464.6,733.16L466.0,733.61L467.5,734.06L468.9,734.48L470.3,734.92L471.8,735.35L473.2,735.78L474.6,736.19L476.1,736.62L477.5,737.03L479.0,737.45L480.4,737.85L481.9,738.26L483.3,738.66L484.7,739.04L486.2,739.44L487.6,739.82L489.1,740.20L490.5,740.58L492.0,740.96L493.5,741.33L494.9,741.68L496.4,742.03L497.8,742.38L499.3,742.72L500.8,743.06L502.2,743.38L503.7,743.70L505.2,744.01L506.6,744.31L508.1,744.60L509.6,744.89L511.0,745.16L512.5,745.44L514.0,745.69L515.5,745.94L517.0,746.18L518.4,746.41L519.9,746.63L521.4,746.83L522.9,747.02L524.4,747.21L525.9,747.38L527.4,747.54L528.9,747.69L530.3,747.82L531.8,747.95L533.3,748.05L534.8,748.15L536.3,748.23L537.8,748.30L539.3,748.35L540.8,748.39L542.3,748.41L543.8,748.42L545.3,748.41L546.8,748.39L548.3,748.35L549.8,748.29L551.3,748.22L552.8,748.12L554.3,748.02L555.8,747.89L557.3,747.75L558.8,747.59L560.3,747.42L561.8,747.22L563.3,747.01L564.7,746.79L566.2,746.54L567.7,746.27L569.2,746.00L570.6,745.71L572.1,745.39L573.6,745.06L575.0,744.72L576.5,744.37L577.9,743.99L579.4,743.60L580.8,743.20L582.3,742.78L583.7,742.34L585.1,741.90L586.6,741.43L588.0,740.96L589.4,740.46L590.8,739.96L592.2,739.44L593.6,738.91L595.0,738.37L596.4,737.81L597.8,737.23L599.2,736.66L600.6,736.06L601.9,735.46L603.3,734.83L604.7,734.21L606.0,733.57L607.4,732.92L608.7,732.25L610.1,731.57L611.4,730.88L612.7,730.20L614.1,729.48L615.4,728.77L616.7,728.06L618.0,727.33L619.3,726.55L620.6,725.83L621.9,725.06L623.2,724.28L624.5,723.49L625.7,722.71L627.0,721.90L628.3,721.10L629.5,720.29L630.8,719.47L632.0,718.64L633.3,717.80L634.5,716.94L635.7,716.11L637.0,715.23L638.2,714.38L639.4,713.48L640.6,712.61L641.8,711.73L643.0,710.84L644.2,709.94L645.4,709.02L646.6,708.10L647.8,707.18L649.0,706.28L650.2,705.33L651.3,704.42L652.5,703.46L653.7,702.54L654.9,701.56L656.0,700.63L657.2,699.68L658.3,698.73L659.5,697.78L660.6,696.82L661.8,695.85L662.9,694.88L664.1,693.91L665.2,692.93L666.4,691.95L667.5,690.97L668.6,690.02L669.8,689.03L670.9,688.04L672.0,687.08L673.2,686.09L674.3,685.09L675.4,684.13L676.6,683.12L677.7,682.12L678.8,681.16L680.0,680.15L681.1,679.19L682.2,678.18L683.3,677.22L684.5,676.21L685.6,675.21L686.7,674.24L687.9,673.24L689.0,672.28L690.1,671.28L691.3,670.28L692.4,669.32L693.5,668.33L694.7,667.34L695.8,666.39L696.9,665.40L698.1,664.42L699.2,663.44L700.4,662.46L701.5,661.49L702.6,660.56L703.8,659.60L704.9,658.64L706.1,657.64L707.3,656.69L708.4,655.75L709.6,654.81L710.7,653.88L711.9,652.91L713.1,652.00L714.3,651.04L715.4,650.14L716.6,649.20L717.8,648.27L719.0,647.35L720.2,646.48L721.4,645.57L722.6,644.67L723.8,643.78L725.0,642.87L726.2,641.99L727.4,641.13L728.7,640.23L729.9,639.39L731.1,638.51L732.3,637.68L733.6,636.82L734.8,635.97L736.1,635.14L737.3,634.31L738.6,633.49L739.8,632.68L741.1,631.88L742.4,631.05L743.6,630.27L744.9,629.47L746.2,628.71L747.5,627.93L748.8,627.16L750.1,626.40L751.4,625.66L752.7,624.92L754.0,624.19L755.3,623.48L756.6,622.75L757.9,622.06L759.3,621.36L760.6,620.66L761.9,620.01L763.3,619.34L764.6,618.69L766.0,618.05L767.4,617.40L768.7,616.78L770.1,616.18L771.5,615.57L772.8,615.00L774.2,614.42L775.6,613.85L777.0,613.30L778.4,612.76L779.8,612.24L781.2,611.73L782.6,611.24L784.1,610.75L785.5,610.29L786.9,609.82L788.4,609.38L789.8,608.96L791.2,608.55L792.7,608.15L794.1,607.76L795.6,607.39L797.0,607.04L798.5,606.69L800.0,606.35L801.4,606.04L802.9,605.73L804.4,605.43L805.8,605.15L807.3,604.88L808.8,604.62L810.3,604.37L811.7,604.14L813.2,603.91L814.7,603.69L816.2,603.49L817.7,603.30L819.2,603.11L820.7,602.93L822.2,602.77L823.7,602.61L825.1,602.46L826.6,602.32L828.1,602.19L829.6,602.06L831.1,601.94L832.6,601.83L834.1,601.72L835.6,601.63L837.1,601.53L838.6,601.44L840.1,601.36L841.6,601.29L843.1,601.22L844.6,601.15L846.1,601.08L847.6,601.02L849.1,600.96L850.6,600.91L852.1,600.86L853.6,600.81L855.1,600.76L856.6,600.71L858.1,600.67L859.6,600.63L861.1,600.59L862.6,600.55L864.1,600.51L865.6,600.47L867.1,600.44L868.6,600.41L870.1,600.38L871.6,600.35L873.1,600.32L874.6,600.29L876.1,600.27L877.6,600.25L879.1,600.22L880.6,600.20L882.1,600.19L883.6,600.17L885.1,600.16L886.6,600.14L888.1,600.13L889.6,600.12L891.1,600.11L892.6,600.10L894.1,600.10L895.6,600.09L897.1,600.09L898.6,600.09L900.1,600.09L901.6,600.09L903.1,600.09L904.6,600.10L906.1,600.10L907.6,600.11L909.1,600.12L910.6,600.13L912.1,600.14L913.6,600.15L915.1,600.17L916.6,600.18L918.1,600.20L919.6,600.21L921.1,600.23L922.6,600.25L924.1,600.28L925.6,600.30L927.1,600.32L928.6,600.35L930.1,600.37L931.6,600.40L933.1,600.43L934.6,600.46L936.1,600.49L937.6,600.53L939.1,600.56L940.6,600.59L942.1,600.63L943.6,600.67L945.1,600.71L946.6,600.75L948.1,600.79L949.6,600.83L951.1,600.87L952.6,600.91L954.1,600.96L955.6,601.00L957.1,601.05L958.6,601.10L960.1,601.15L961.6,601.20L963.1,601.25L964.6,601.30L966.1,601.35L967.6,601.41L969.1,601.46L970.6,601.52L972.1,601.58L973.6,601.63L975.1,601.69L976.6,601.75L978.1,601.81L979.6,601.87L981.1,601.93L982.6,602.00L984.1,602.06L985.6,602.13L987.0,602.19L988.5,602.26L990.0,602.32L991.5,602.39L993.0,602.46L994.5,602.53L996.0,602.60L997.5,602.67L999.0,602.74L1000.5,602.81L1002.0,602.89L1003.5,602.96L1005.0,603.03L1006.5,603.11L1008.0,603.19L1009.5,603.26L1011.0,603.34L1012.5,603.42L1014.0,603.50L1015.5,603.57L1017.0,603.65L1018.5,603.73L1020.0,603.82L1021.5,603.90L1023.0,603.98L1024.5,604.06L1026.0,604.15L1027.5,604.23L1029.0,604.31L1030.5,604.40L1032.0,604.48L1033.5,604.57L1035.0,604.65L1036.5,604.74L1038.0,604.83L1039.5,604.91L1041.0,605.00L1042.5,605.09L1044.0,605.18L1045.5,605.27L1047.0,605.36L1048.5,605.45L1050.0,605.54L1051.5,605.63L1053.0,605.72L1054.5,605.81L1055.9,605.90L1057.4,605.99L1058.9,606.09L1060.4,606.18L1061.9,606.27L1063.4,606.37L1064.9,606.46L1066.4,606.55L1067.9,606.65L1069.4,606.74L1070.9,606.84L1072.4,606.93L1073.9,607.03L1075.4,607.12L1076.9,607.22L1078.4,607.31L1079.9,607.41L1081.4,607.50L1082.9,607.60L1084.4,607.70L1085.9,607.79L1087.4,607.89L1088.9,607.99L1090.4,608.08L1091.9,608.18L1093.4,608.28L1094.9,608.37L1096.4,608.47L1097.9,608.57L1099.4,608.67L1100.9,608.76L1102.4,608.86L1103.9,608.96L1105.3,609.05L1106.8,609.15L1108.3,609.25L1109.8,609.34L1111.3,609.44L1112.8,609.54L1114.3,609.63L1115.8,609.73L1117.3,609.83L1118.8,609.92L1120.3,610.02L1121.8,610.12L1123.3,610.21L1124.8,610.31L1126.3,610.40L1127.8,610.50L1129.3,610.59L1130.8,610.69L1132.3,610.78L1133.8,610.88L1135.3,610.97L1136.8,611.07L1138.3,611.16L1139.8,611.26L1141.3,611.35L1142.8,611.44L1144.3,611.54L1145.8,611.63L1147.3,611.72L1148.8,611.81L1150.3,611.91L1151.8,612.00L1153.3,612.09L1154.7,612.18L1156.2,612.27L1157.7,612.36L1159.2,612.45L1160.7,612.54L1162.2,612.63L1163.7,612.71L1165.2,612.80L1166.7,612.89L1168.2,612.98L1169.7,613.06L1171.2,613.15L1172.7,613.24L1174.2,613.32L1175.7,613.41L1177.2,613.49L1178.7,613.58L1180.2,613.66L1181.7,613.74L1183.2,613.82L1184.7,613.90L1186.2,613.98L1187.7,614.07L1189.2,614.15L1190.7,614.23L1192.2,614.31L1193.7,614.39L1195.2,614.46L1196.7,614.54L1198.2,614.62L1199.7,614.70L1201.2,614.78L1202.7,614.85L1204.2,614.93L1205.7,615.00L1207.2,615.08L1208.7,615.15L1210.2,615.23L1211.7,615.30L1213.2,615.38L1214.7,615.45L1216.2,615.52L1217.7,615.60L1219.2,615.67L1220.7,615.74L1222.2,615.81L1223.6,615.88L1225.1,615.95L1226.6,616.02L1228.1,616.09L1229.6,616.16L1231.1,616.23L1232.6,616.30L1234.1,616.36L1235.6,616.43L1237.1,616.50L1238.6,616.57L1240.1,616.63L1241.6,616.70L1243.1,616.76L1244.6,616.83L1246.1,616.90L1247.6,616.96L1249.1,617.02L1250.6,617.09L1252.1,617.15L1253.6,617.22L1255.1,617.28L1256.6,617.34L1258.1,617.40L1259.6,617.47L1261.1,617.53L1262.6,617.59L1264.1,617.65L1265.6,617.71L1267.1,617.77L1268.6,617.83L1270.1,617.89L1271.6,617.95L1273.1,618.01L1274.6,618.07L1276.1,618.13L1277.6,618.18L1279.1,618.24L1280.6,618.30L1282.1,618.35L1283.6,618.41L1285.1,618.47L1286.6,618.52L1288.1,618.58L1289.6,618.64L1291.1,618.69L1292.6,618.75L1294.1,618.80L1295.6,618.86L1297.1,618.91L1298.6,618.97L1300.1,619.02L1301.6,619.07L1303.1,619.13L1304.6,619.18L1306.1,619.23L1307.6,619.28L1309.1,619.34L1310.6,619.39L1312.1,619.44L1313.6,619.49L1315.1,619.54L1316.6,619.59L1318.1,619.65L1319.6,619.70L1321.1,619.75L1322.6,619.80L1324.1,619.85L1325.6,619.90L1327.1,619.94L1328.6,619.99L1330.1,620.04L1331.6,620.09L1333.1,620.14L1334.6,620.19L1336.1,620.24L1337.6,620.28L1339.1,620.33L1340.6,620.38L1342.1,620.43L1343.6,620.47L1345.1,620.52L1346.6,620.57L1348.1,620.61L1349.6,620.66L1351.1,620.71L1352.6,620.75L1354.1,620.80L1355.6,620.84L1357.1,620.89L1358.6,620.93L1360.1,620.98L1361.6,621.02L1363.1,621.07L1364.6,621.11L1366.1,621.16L1367.5,621.20L1369.0,621.24L1370.5,621.29L1372.0,621.33L1373.5,621.38L1375.0,621.42L1376.5,621.46L1378.0,621.51L1379.5,621.55L1381.0,621.59L1382.5,621.64L1384.0,621.68L1385.5,621.72L1387.0,621.76L1388.5,621.81L1390.0,621.85L1391.5,621.89L1393.0,621.93L1394.5,621.97L1396.0,622.02L1397.5,622.06L1399.0,622.10L1400.5,622.14L1402.0,622.18L1403.5,622.22L1405.0,622.26L1406.5,622.30L1408.0,622.35L1409.5,622.39L1411.0,622.43L1412.5,622.47L1414.0,622.51L1415.5,622.55L1417.0,622.59L1418.5,622.63L1420.0,622.67L1421.5,622.71L1423.0,622.75L1424.5,622.79L1426.0,622.83L1427.5,622.87L1429.0,622.91L1430.5,622.95L1432.0,622.99L1433.5,623.03L1435.0,623.07L1436.5,623.11L1438.0,623.15L1439.5,623.19L1441.0,623.23L1442.5,623.27L1444.0,623.31L1445.5,623.35L1447.0,623.39L1448.5,623.43L1450.0,623.47L1451.5,623.51L1453.0,623.55L1454.5,623.59L1456.0,623.62L1457.5,623.66L1459.0,623.70L1460.5,623.74L1462.0,623.78L1463.5,623.82L1465.0,623.86L1466.5,623.90L1468.0,623.94L1469.5,623.98L1471.0,624.02L1472.5,624.06L1474.0,624.10L1475.5,624.14L1477.0,624.18L1478.5,624.22L1480.0,624.26L1481.5,624.30L1483.0,624.34L1484.5,624.38L1486.0,624.42L1487.5,624.46L1489.0,624.50L1490.5,624.54L1492.0,624.58L1493.5,624.62L1495.0,624.66L1496.5,624.70L1498.0,624.74L1499.5,624.78L1501.0,624.82L1502.5,624.86L1504.0,624.90L1505.5,624.94L1507.0,624.98L1508.5,625.02L1510.0,625.06L1511.5,625.10L1513.0,625.14L1514.5,625.18L1516.0,625.22L1517.5,625.26L1519.0,625.31L1520.5,625.35L1522.0,625.39L1523.5,625.43L1525.0,625.47L1526.5,625.51L1528.0,625.56L1529.5,625.60L1531.0,625.64L1532.5,625.68L1534.0,625.73L1535.5,625.77L1537.0,625.81L1538.5,625.85L1540.0,625.90L1541.5,625.94L1543.0,625.98L1544.5,626.03L1546.0,626.07L1547.5,626.11L1549.0,626.16L1550.5,626.20L1552.0,626.25L1553.5,626.29L1555.0,626.34L1556.5,626.38L1558.0,626.42L1559.5,626.47L1560.0,626.49" stroke="#0000ee" stroke-width="6.5" fill="none" stroke-linejoin="round"/>
<path d="M198.9,721.35L200.4,721.00L201.9,720.67L203.3,720.34L204.8,719.99L206.3,719.63L207.7,719.26L209.2,718.88L210.6,718.48L212.0,718.07L213.5,717.62L214.9,717.14L216.3,716.65L217.7,716.13L219.1,715.57L220.5,714.99L221.9,714.36L223.2,713.71L224.5,713.04L225.9,712.30L227.2,711.54L228.4,710.77L229.7,709.96L230.9,709.10L232.1,708.23L233.3,707.31L234.5,706.34L235.7,705.37L236.8,704.40L237.9,703.38L239.0,702.31L240.0,701.25L241.0,700.19L242.0,699.08L243.0,697.91L244.0,696.74L244.9,695.57L245.8,694.34L246.6,693.12L247.5,691.83L248.3,690.56L249.0,689.32L249.8,688.01L250.5,686.65L251.2,685.33L251.9,684.04L252.5,682.71L253.2,681.33L253.8,680.00L254.4,678.52L255.0,677.21L255.6,675.74L256.1,674.35L256.6,673.05L257.2,671.58L257.7,670.20L258.2,668.78L258.7,667.32L259.1,665.98L259.6,664.45L260.1,663.03L260.5,661.58L260.9,660.26L261.4,658.75L261.8,657.37L262.2,655.79L262.6,654.36L263.0,652.91L263.4,651.44L263.8,650.14L264.2,648.64L264.6,647.13L264.9,645.80L265.3,644.28L265.7,642.74L266.1,641.40L266.5,639.87L266.8,638.53L267.2,636.99L267.6,635.63L268.0,634.08L268.3,632.70L268.7,631.11L269.1,629.70L269.4,628.27L269.8,626.81L270.1,625.33L270.5,623.81L270.8,622.49L271.1,620.92L271.4,619.53L271.7,618.13L272.1,616.45L272.4,614.99L272.7,613.50L272.9,612.25L273.2,610.72L273.5,609.17L273.8,607.61L274.1,606.29L274.4,604.70L274.6,603.36L274.9,601.74L275.2,600.38L275.5,598.73L275.7,597.36L276.0,595.97L276.3,594.31L276.5,592.91L276.8,591.52L277.0,590.11L277.3,588.43L277.6,587.02L277.8,585.62L278.1,584.21L278.4,582.53L278.6,581.12L278.9,579.72L279.1,578.32L279.4,576.65L279.7,575.26L279.9,573.88L280.2,572.23L280.5,570.86L280.8,569.23L281.0,567.88L281.3,566.27L281.6,564.94L281.9,563.36L282.1,562.06L282.4,560.51L282.7,558.98L283.0,557.48L283.3,556.00L283.6,554.54L283.9,553.10L284.2,551.69L284.5,550.31L284.9,548.74L285.2,547.20L285.5,545.92L285.9,544.47L286.3,542.87L286.6,541.52L287.0,540.05L287.4,538.67L287.9,537.21L288.4,535.73L288.9,534.41L289.5,533.04L290.2,531.69L291.1,530.57L292.4,529.86L293.8,530.22L294.9,531.29L295.8,532.56L296.5,533.89L297.1,535.23L297.6,536.60L298.2,538.13L298.6,539.48L299.1,540.92L299.5,542.45L299.9,543.88L300.3,545.19L300.7,546.75L301.0,548.17L301.4,549.63L301.7,551.14L302.1,552.69L302.4,554.05L302.7,555.43L303.0,557.09L303.3,558.53L303.6,559.99L303.9,561.48L304.2,562.99L304.5,564.26L304.8,565.80L305.1,567.36L305.3,568.67L305.6,570.25L305.9,571.85L306.2,573.18L306.5,574.79L306.7,576.14L307.0,577.49L307.3,579.11L307.5,580.47L307.8,582.09L308.1,583.44L308.4,585.05L308.6,586.40L308.9,588.00L309.2,589.33L309.5,590.91L309.8,592.48L310.0,593.77L310.3,595.31L310.6,596.83L310.9,598.33L311.2,599.81L311.5,601.28L311.8,602.72L312.1,604.14L312.4,605.54L312.8,607.14L313.1,608.50L313.4,610.05L313.7,611.35L314.1,612.84L314.4,614.30L314.8,615.73L315.2,617.32L315.5,618.67L315.9,620.19L316.3,621.66L316.7,623.10L317.1,624.51L317.5,625.90L318.0,627.43L318.4,628.78L318.8,630.27L319.2,631.60L319.7,633.08L320.1,634.56L320.6,636.04L321.0,637.35L321.4,638.83L321.9,640.30L322.3,641.77L322.7,643.06L323.2,644.50L323.6,645.93L324.1,647.49L324.6,648.87L325.0,650.23L325.5,651.70L326.0,653.14L326.5,654.55L327.0,655.93L327.5,657.27L328.1,658.70L328.6,660.10L329.2,661.45L329.8,662.88L330.4,664.27L331.0,665.60L331.6,666.98L332.3,668.31L333.0,669.68L333.7,670.99L334.4,672.32L335.2,673.58L336.0,674.86L336.8,676.07L337.7,677.35L338.6,678.55L339.5,679.68L340.5,680.85L341.5,681.94L342.5,683.00L343.6,684.03L344.8,685.04L345.9,685.97L347.1,686.88L348.3,687.73L349.6,688.57L350.8,689.38L352.1,690.19L353.4,690.96L354.7,691.70L356.0,692.41L357.4,693.11L358.7,693.76L360.0,694.40L361.4,695.02L362.8,695.60L364.2,696.16L365.6,696.69L367.0,697.21L368.4,697.67L369.9,698.12L371.3,698.54L372.8,698.93L374.2,699.28L375.7,699.61L377.1,699.90L378.6,700.18L380.1,700.42L381.6,700.63L383.1,700.82L384.6,700.98L386.1,701.12L387.6,701.23L389.0,701.31L390.5,701.36L392.0,701.40L393.5,701.41L395.0,701.40L396.5,701.37L398.0,701.31L399.5,701.24L401.0,701.15L402.5,701.04L404.0,700.91L405.5,700.76L407.0,700.60L408.5,700.42L410.0,700.24L411.5,700.03L413.0,699.81L414.4,699.59L415.9,699.34L417.4,699.09L418.9,698.84L420.4,698.56L421.8,698.29L423.3,698.00L424.8,697.71L426.2,697.41L427.7,697.09L429.2,696.77L430.6,696.44L432.1,696.09L433.6,695.75L435.0,695.39L436.5,695.03L437.9,694.66L439.4,694.28L440.8,693.90L442.3,693.50L443.7,693.10L445.2,692.69L446.6,692.27L448.0,691.85L449.5,691.42L450.9,690.97L452.3,690.54L453.8,690.08L455.2,689.61L456.6,689.15L458.1,688.67L459.5,688.19L460.9,687.71L462.3,687.21L463.7,686.71L465.1,686.21L466.5,685.70L467.9,685.18L469.4,684.64L470.8,684.11L472.2,683.57L473.6,683.03L475.0,682.47L476.3,681.94L477.7,681.37L479.1,680.80L480.5,680.22L481.9,679.66L483.3,679.07L484.7,678.47L486.0,677.89L487.4,677.28L488.8,676.69L490.2,676.07L491.5,675.46L492.9,674.85L494.3,674.21L495.6,673.59L497.0,672.96L498.3,672.33L499.7,671.69L501.0,671.04L502.4,670.39L503.7,669.73L505.1,669.07L506.4,668.40L507.8,667.73L509.1,667.05L510.5,666.37L511.8,665.71L513.1,665.02L514.5,664.32L515.8,663.64L517.1,662.93L518.4,662.25L519.8,661.53L521.1,660.83L522.4,660.10L523.7,659.40L525.0,658.69L526.4,657.95L527.7,657.23L529.0,656.50L530.3,655.78L531.6,655.02L532.9,654.28L534.2,653.54L535.5,652.79L536.8,652.04L538.1,651.29L539.4,650.53L540.7,649.80L542.0,649.04L543.3,648.27L544.6,647.49L545.9,646.72L547.1,645.97L548.4,645.18L549.7,644.39L551.0,643.63L552.3,642.83L553.5,642.06L554.8,641.26L556.1,640.45L557.4,639.68L558.6,638.89L559.9,638.07L561.2,637.29L562.4,636.49L563.7,635.66L565.0,634.87L566.2,634.06L567.5,633.23L568.8,632.42L570.0,631.61L571.3,630.79L572.5,629.97L573.8,629.15L575.0,628.33L576.3,627.50L577.5,626.68L578.8,625.85L580.0,625.02L581.3,624.18L582.5,623.35L583.8,622.52L585.0,621.69L586.3,620.85L587.5,620.02L588.8,619.19L590.0,618.36L591.3,617.53L592.5,616.71L593.8,615.88L595.0,615.06L596.3,614.24L597.5,613.43L598.8,612.58L600.1,611.77L601.3,610.97L602.6,610.17L603.9,609.35L605.1,608.56L606.4,607.78L607.7,606.97L608.9,606.20L610.2,605.40L611.5,604.62L612.8,603.87L614.1,603.10L615.4,602.34L616.7,601.58L618.0,600.84L619.3,600.11L620.6,599.35L621.9,598.64L623.2,597.94L624.6,597.22L625.9,596.54L627.2,595.85L628.6,595.17L629.9,594.51L631.3,593.86L632.6,593.22L634.0,592.60L635.3,592.00L636.7,591.39L638.1,590.79L639.5,590.24L640.9,589.68L642.3,589.14L643.7,588.62L645.1,588.10L646.5,587.62L647.9,587.15L649.4,586.69L650.8,586.24L652.2,585.83L653.7,585.43L655.1,585.04L656.6,584.67L658.1,584.31L659.5,583.99L661.0,583.68L662.5,583.38L663.9,583.11L665.4,582.85L666.9,582.62L668.4,582.40L669.9,582.20L671.3,582.03L672.8,581.87L674.3,581.73L675.8,581.61L677.3,581.51L678.8,581.44L680.3,581.38L681.8,581.34L683.3,581.32L684.8,581.32L686.3,581.34L687.8,581.38L689.3,581.44L690.8,581.52L692.3,581.62L693.8,581.74L695.3,581.88L696.8,582.04L698.3,582.21L699.8,582.41L701.3,582.63L702.7,582.85L704.2,583.11L705.7,583.37L707.2,583.67L708.6,583.97L710.1,584.29L711.6,584.63L713.0,584.99L714.5,585.36L715.9,585.75L717.4,586.16L718.8,586.58L720.2,587.01L721.7,587.46L723.1,587.91L724.5,588.40L725.9,588.88L727.4,589.39L728.8,589.89L730.2,590.41L731.6,590.94L733.0,591.47L734.4,592.02L735.8,592.58L737.2,593.15L738.5,593.71L739.9,594.29L741.3,594.89L742.7,595.47L744.1,596.07L745.4,596.67L746.8,597.29L748.2,597.89L749.5,598.51L750.9,599.14L752.3,599.76L753.6,600.39L755.0,601.02L756.4,601.67L757.7,602.30L759.1,602.94L760.4,603.58L761.8,604.22L763.1,604.86L764.5,605.50L765.8,606.15L767.2,606.79L768.5,607.43L769.9,608.10L771.3,608.74L772.6,609.38L774.0,610.02L775.3,610.66L776.7,611.30L778.0,611.94L779.4,612.58L780.7,613.21L782.1,613.87L783.5,614.51L784.8,615.14L786.2,615.77L787.5,616.41L788.9,617.04L790.3,617.69L791.6,618.32L793.0,618.94L794.3,619.57L795.7,620.21L797.1,620.83L798.4,621.45L799.8,622.07L801.2,622.71L802.5,623.32L803.9,623.93L805.3,624.57L806.6,625.18L808.0,625.78L809.4,626.41L810.7,627.01L812.1,627.63L813.5,628.23L814.8,628.82L816.2,629.43L817.6,630.02L819.0,630.63L820.3,631.22L821.7,631.82L823.1,632.42L824.5,632.99L825.9,633.59L827.2,634.16L828.6,634.74L830.0,635.33L831.4,635.89L832.8,636.46L834.2,637.04L835.6,637.61L837.0,638.17L838.3,638.72L839.7,639.28L841.1,639.83L842.5,640.38L843.9,640.93L845.3,641.48L846.7,642.02L848.1,642.56L849.5,643.09L850.9,643.62L852.3,644.15L853.7,644.67L855.1,645.19L856.5,645.71L858.0,646.24L859.4,646.75L860.8,647.25L862.2,647.76L863.6,648.27L865.0,648.77L866.4,649.26L867.8,649.75L869.3,650.26L870.7,650.74L872.1,651.23L873.5,651.71L874.9,652.18L876.4,652.67L877.8,653.13L879.2,653.61L880.6,654.07L882.1,654.54L883.5,655.00L884.9,655.46L886.3,655.91L887.8,656.37L889.2,656.82L890.6,657.26L892.1,657.71L893.5,658.15L894.9,658.58L896.4,659.02L897.8,659.46L899.3,659.89L900.7,660.30L902.1,660.73L903.6,661.15L905.0,661.57L906.5,661.99L907.9,662.39L909.3,662.80L910.8,663.21L912.2,663.61L913.7,664.01L915.1,664.41L916.6,664.81L918.0,665.20L919.5,665.59L920.9,665.98L922.4,666.36L923.8,666.74L925.3,667.12L926.7,667.49L928.2,667.86L929.6,668.23L931.1,668.60L932.5,668.96L934.0,669.32L935.4,669.68L936.9,670.05L938.4,670.40L939.8,670.75L941.3,671.09L942.7,671.44L944.2,671.78L945.7,672.13L947.1,672.46L948.6,672.80L950.0,673.12L951.5,673.46L953.0,673.79L954.4,674.11L955.9,674.43L957.4,674.76L958.8,675.07L960.3,675.38L961.8,675.70L963.2,676.01L964.7,676.31L966.2,676.62L967.6,676.92L969.1,677.23L970.6,677.52L972.0,677.81L973.5,678.11L975.0,678.40L976.5,678.69L977.9,678.98L979.4,679.27L980.9,679.54L982.4,679.83L983.8,680.10L985.3,680.38L986.8,680.65L988.3,680.92L989.7,681.19L991.2,681.46L992.7,681.71L994.2,681.98L995.6,682.23L997.1,682.50L998.6,682.75L1000.1,683.00L1001.5,683.25L1003.0,683.50L1004.5,683.75L1006.0,683.99L1007.5,684.24L1008.9,684.47L1010.4,684.72L1011.9,684.95L1013.4,685.18L1014.9,685.42L1016.4,685.65L1017.8,685.88L1019.3,686.11L1020.8,686.33L1022.3,686.55L1023.8,686.78L1025.3,687.00L1026.7,687.21L1028.2,687.43L1029.7,687.65L1031.2,687.85L1032.7,688.07L1034.2,688.28L1035.6,688.48L1037.1,688.69L1038.6,688.89L1040.1,689.09L1041.6,689.29L1043.1,689.49L1044.6,689.69L1046.1,689.89L1047.5,690.07L1049.0,690.27L1050.5,690.46L1052.0,690.65L1053.5,690.83L1055.0,691.02L1056.5,691.21L1058.0,691.39L1059.4,691.57L1060.9,691.75L1062.4,691.93L1063.9,692.11L1065.4,692.28L1066.9,692.45L1068.4,692.63L1069.9,692.80L1071.4,692.97L1072.9,693.14L1074.3,693.30L1075.8,693.47L1077.3,693.64L1078.8,693.80L1080.3,693.97L1081.8,694.13L1083.3,694.28L1084.8,694.44L1086.3,694.60L1087.8,694.76L1089.3,694.92L1090.8,695.07L1092.2,695.22L1093.7,695.37L1095.2,695.53L1096.7,695.68L1098.2,695.83L1099.7,695.98L1101.2,696.12L1102.7,696.27L1104.2,696.41L1105.7,696.56L1107.2,696.70L1108.7,696.84L1110.2,696.99L1111.7,697.13L1113.1,697.26L1114.6,697.40L1116.1,697.54L1117.6,697.68L1119.1,697.82L1120.6,697.95L1122.1,698.09L1123.6,698.22L1125.1,698.35L1126.6,698.49L1128.1,698.62L1129.6,698.75L1131.1,698.88L1132.6,699.02L1134.1,699.15L1135.6,699.27L1137.1,699.40L1138.5,699.53L1140.0,699.66L1141.5,699.78L1143.0,699.91L1144.5,700.04L1146.0,700.16L1147.5,700.28L1149.0,700.41L1150.5,700.53L1152.0,700.65L1153.5,700.77L1155.0,700.89L1156.5,701.02L1158.0,701.14L1159.5,701.25L1161.0,701.37L1162.5,701.49L1164.0,701.61L1165.5,701.73L1167.0,701.84L1168.4,701.96L1169.9,702.07L1171.4,702.19L1172.9,702.30L1174.4,702.41L1175.9,702.53L1177.4,702.64L1178.9,702.75L1180.4,702.86L1181.9,702.97L1183.4,703.08L1184.9,703.19L1186.4,703.30L1187.9,703.41L1189.4,703.51L1190.9,703.62L1192.4,703.73L1193.9,703.84L1195.4,703.94L1196.9,704.05L1198.4,704.15L1199.9,704.25L1201.4,704.36L1202.9,704.46L1204.4,704.56L1205.8,704.66L1207.3,704.76L1208.8,704.86L1210.3,704.96L1211.8,705.06L1213.3,705.16L1214.8,705.26L1216.3,705.36L1217.8,705.46L1219.3,705.55L1220.8,705.65L1222.3,705.74L1223.8,705.84L1225.3,705.93L1226.8,706.03L1228.3,706.12L1229.8,706.21L1231.3,706.31L1232.8,706.40L1234.3,706.49L1235.8,706.58L1237.3,706.67L1238.8,706.76L1240.3,706.85L1241.8,706.94L1243.3,707.03L1244.8,707.12L1246.3,707.21L1247.8,707.29L1249.3,707.38L1250.8,707.47L1252.3,707.55L1253.8,707.64L1255.3,707.72L1256.8,707.81L1258.2,707.89L1259.7,707.97L1261.2,708.05L1262.7,708.14L1264.2,708.22L1265.7,708.30L1267.2,708.38L1268.7,708.46L1270.2,708.54L1271.7,708.62L1273.2,708.70L1274.7,708.78L1276.2,708.86L1277.7,708.94L1279.2,709.02L1280.7,709.09L1282.2,709.17L1283.7,709.25L1285.2,709.32L1286.7,709.40L1288.2,709.47L1289.7,709.55L1291.2,709.62L1292.7,709.69L1294.2,709.77L1295.7,709.84L1297.2,709.91L1298.7,709.98L1300.2,710.05L1301.7,710.12L1303.2,710.19L1304.7,710.26L1306.2,710.33L1307.7,710.40L1309.2,710.47L1310.7,710.54L1312.2,710.61L1313.7,710.68L1315.2,710.75L1316.7,710.81L1318.2,710.88L1319.7,710.95L1321.2,711.01L1322.7,711.08L1324.2,711.14L1325.7,711.21L1327.2,711.27L1328.7,711.34L1330.2,711.40L1331.7,711.46L1333.2,711.53L1334.7,711.59L1336.2,711.65L1337.7,711.71L1339.2,711.77L1340.7,711.84L1342.2,711.90L1343.7,711.96L1345.2,712.02L1346.6,712.07L1348.1,712.13L1349.6,712.19L1351.1,712.25L1352.6,712.31L1354.1,712.37L1355.6,712.43L1357.1,712.48L1358.6,712.54L1360.1,712.60L1361.6,712.65L1363.1,712.71L1364.6,712.76L1366.1,712.82L1367.6,712.87L1369.1,712.93L1370.6,712.98L1372.1,713.04L1373.6,713.09L1375.1,713.15L1376.6,713.20L1378.1,713.25L1379.6,713.30L1381.1,713.36L1382.6,713.41L1384.1,713.46L1385.6,713.51L1387.1,713.56L1388.6,713.61L1390.1,713.66L1391.6,713.71L1393.1,713.76L1394.6,713.81L1396.1,713.86L1397.6,713.91L1399.1,713.96L1400.6,714.01L1402.1,714.06L1403.6,714.11L1405.1,714.15L1406.6,714.20L1408.1,714.25L1409.6,714.29L1411.1,714.34L1412.6,714.39L1414.1,714.43L1415.6,714.48L1417.1,714.52L1418.6,714.57L1420.1,714.62L1421.6,714.66L1423.1,714.70L1424.6,714.75L1426.1,714.79L1427.6,714.84L1429.1,714.88L1430.6,714.92L1432.1,714.97L1433.6,715.01L1435.1,715.05L1436.6,715.09L1438.1,715.14L1439.6,715.18L1441.1,715.22L1442.6,715.26L1444.1,715.30L1445.6,715.35L1447.1,715.39L1448.6,715.43L1450.1,715.47L1451.6,715.51L1453.1,715.55L1454.6,715.59L1456.1,715.63L1457.6,715.67L1459.1,715.71L1460.6,715.75L1462.1,715.79L1463.6,715.82L1465.1,715.86L1466.6,715.90L1468.1,715.94L1469.6,715.98L1471.1,716.02L1472.6,716.05L1474.1,716.09L1475.6,716.13L1477.1,716.17L1478.6,716.20L1480.1,716.24L1481.6,716.28L1483.1,716.31L1484.6,716.35L1486.1,716.39L1487.6,716.42L1489.1,716.46L1490.6,716.49L1492.1,716.53L1493.6,716.57L1495.1,716.60L1496.6,716.64L1498.1,716.67L1499.6,716.71L1501.1,716.74L1502.6,716.78L1504.1,716.81L1505.6,716.85L1507.1,716.88L1508.6,716.91L1510.1,716.95L1511.6,716.98L1513.1,717.02L1514.6,717.05L1516.1,717.08L1517.6,717.12L1519.1,717.15L1520.6,717.18L1522.1,717.22L1523.6,717.25L1525.1,717.28L1526.6,717.32L1528.1,717.35L1529.6,717.38L1531.1,717.41L1532.6,717.45L1534.1,717.48L1535.6,717.51L1537.1,717.54L1538.6,717.58L1540.1,717.61L1541.6,717.64L1543.1,717.67L1544.6,717.70L1546.1,717.74L1547.6,717.77L1549.1,717.80L1550.6,717.83L1552.1,717.86L1553.6,717.89L1555.1,717.93L1556.6,717.96L1558.1,717.99L1559.6,718.02L1560.0,718.03" stroke="#ff0000" stroke-width="6.5" fill="none" stroke-linejoin="round"/>
<path d="M189.5,499.7H1561.0M189.5,848.8H1561.0" stroke="#000" stroke-width="4.0" fill="none"/>
<path d="M191.0,499.7V848.8M1559.5,499.7V848.8" stroke="#222" stroke-width="3.0" fill="none"/>
<rect x="189.8" y="1164.5" width="72.2" height="68.6" fill="#c3c3c3"/>
<line x1="262.0" y1="1164.5" x2="262.0" y2="1233.1" stroke="#2a2a2a" stroke-width="2.5"/>
<line x1="189.8" y1="1164.5" x2="1563.8" y2="1164.5" stroke="#000" stroke-width="2.4"/>
<line x1="189.8" y1="1163.7" x2="262.0" y2="1163.7" stroke="#000" stroke-width="4.0"/>
<path d="M275.1,1233.1v-11.0M360.9,1233.1v-20.0M446.8,1233.1v-11.0M532.7,1233.1v-20.0M618.6,1233.1v-11.0M704.5,1233.1v-20.0M790.3,1233.1v-11.0M876.2,1233.1v-20.0M962.1,1233.1v-11.0M1048.0,1233.1v-20.0M1133.8,1233.1v-11.0M1219.7,1233.1v-20.0M1305.6,1233.1v-11.0M1391.5,1233.1v-20.0M1477.3,1233.1v-11.0M189.8,959.7h11.0M189.8,1027.9h20.0M189.8,1096.0h11.0" stroke="#000" stroke-width="3.5" fill="none"/>
<path d="M198.9,1184.15L200.2,1184.98L201.4,1185.86L202.6,1186.73L203.8,1187.63L205.0,1188.56L206.2,1189.50L207.4,1190.42L208.6,1191.38L209.7,1192.31L210.9,1193.23L212.1,1194.19L213.2,1195.10L214.4,1196.04L215.6,1196.95L216.8,1197.83L218.0,1198.69L219.3,1199.54L220.5,1200.35L221.8,1201.13L223.1,1201.85L224.5,1202.53L225.8,1203.13L227.2,1203.66L228.7,1204.11L230.1,1204.43L231.6,1204.63L233.1,1204.69L234.6,1204.59L236.1,1204.33L237.5,1203.92L238.9,1203.35L240.3,1202.65L241.5,1201.85L242.7,1200.95L243.9,1199.95L244.9,1198.92L246.0,1197.78L246.9,1196.65L247.8,1195.49L248.7,1194.23L249.6,1192.96L250.4,1191.69L251.1,1190.43L251.9,1189.10L252.6,1187.80L253.3,1186.43L253.9,1185.11L254.6,1183.73L255.2,1182.41L255.8,1181.03L256.4,1179.61L256.9,1178.24L257.5,1176.83L258.0,1175.48L258.5,1174.08L259.0,1172.63L259.5,1171.11L259.9,1169.69L260.3,1168.38L260.8,1166.85L261.2,1165.44L261.6,1163.99L262.0,1162.48L262.3,1161.11L262.7,1159.50L263.1,1158.06L263.4,1156.58L263.7,1155.29L264.1,1153.76L264.4,1152.21L264.7,1150.86L265.1,1149.28L265.4,1147.91L265.7,1146.53L266.0,1144.91L266.3,1143.51L266.6,1142.11L267.0,1140.46L267.3,1139.03L267.6,1137.60L267.9,1136.15L268.2,1134.68L268.5,1133.20L268.8,1131.71L269.1,1130.20L269.4,1128.67L269.6,1127.39L269.9,1125.83L270.2,1124.25L270.5,1122.91L270.8,1121.29L271.0,1119.93L271.3,1118.54L271.6,1116.86L271.8,1115.44L272.1,1114.00L272.3,1112.54L272.6,1111.07L272.8,1109.57L273.1,1108.06L273.3,1106.53L273.6,1104.99L273.8,1103.75L274.0,1102.19L274.3,1100.64L274.5,1099.08L274.7,1097.84L275.0,1096.30L275.2,1094.77L275.5,1093.25L275.7,1091.75L276.0,1090.26L276.2,1088.80L276.5,1087.34L276.7,1085.90L277.0,1084.48L277.2,1083.06L277.5,1081.38L277.8,1079.98L278.0,1078.60L278.3,1076.94L278.6,1075.57L278.8,1074.20L279.1,1072.57L279.4,1071.21L279.7,1069.59L279.9,1068.24L280.2,1066.64L280.5,1065.31L280.8,1063.74L281.0,1062.43L281.3,1060.88L281.6,1059.35L281.9,1057.84L282.2,1056.35L282.5,1054.87L282.8,1053.42L283.1,1052.00L283.4,1050.60L283.8,1049.00L284.1,1047.65L284.4,1046.11L284.7,1044.81L285.1,1043.33L285.4,1041.88L285.8,1040.25L286.2,1038.85L286.5,1037.49L286.9,1035.95L287.3,1034.45L287.7,1033.17L288.1,1031.72L288.5,1030.14L288.9,1028.75L289.3,1027.39L289.8,1025.89L290.2,1024.42L290.7,1022.97L291.1,1021.55L291.6,1020.15L292.0,1018.78L292.5,1017.27L293.0,1015.93L293.5,1014.45L293.9,1013.14L294.4,1011.70L294.9,1010.27L295.4,1008.87L295.9,1007.48L296.5,1005.97L297.0,1004.63L297.5,1003.17L298.0,1001.87L298.6,1000.46L299.2,998.96L299.7,997.62L300.3,996.30L300.9,994.91L301.5,993.55L302.1,992.13L302.8,990.75L303.4,989.43L304.1,988.07L304.8,986.77L305.6,985.44L306.3,984.20L307.1,982.96L308.0,981.75L308.9,980.51L309.9,979.39L310.9,978.32L312.0,977.27L313.1,976.31L314.3,975.44L315.6,974.62L316.9,973.93L318.3,973.32L319.7,972.83L321.2,972.45L322.7,972.19L324.2,972.04L325.6,972.01L327.1,972.09L328.6,972.25L330.1,972.51L331.6,972.84L333.0,973.23L334.5,973.68L335.9,974.17L337.3,974.70L338.7,975.26L340.1,975.85L341.4,976.44L342.8,977.05L344.2,977.69L345.5,978.31L346.9,978.92L348.3,979.56L349.6,980.17L351.0,980.78L352.4,981.41L353.7,982.02L355.1,982.62L356.5,983.24L357.8,983.84L359.2,984.45L360.6,985.04L362.0,985.65L363.3,986.23L364.7,986.83L366.1,987.41L367.5,988.01L368.9,988.59L370.2,989.16L371.6,989.74L373.0,990.32L374.4,990.89L375.8,991.44L377.2,992.00L378.6,992.55L380.0,993.11L381.4,993.65L382.8,994.19L384.2,994.73L385.6,995.26L387.0,995.78L388.4,996.30L389.8,996.81L391.2,997.33L392.6,997.83L394.0,998.32L395.5,998.83L396.9,999.31L398.3,999.78L399.7,1000.27L401.1,1000.73L402.6,1001.21L404.0,1001.66L405.4,1002.12L406.8,1002.57L408.3,1003.02L409.7,1003.46L411.2,1003.90L412.6,1004.32L414.0,1004.75L415.5,1005.18L416.9,1005.59L418.3,1005.99L419.8,1006.40L421.2,1006.80L422.7,1007.20L424.1,1007.59L425.6,1007.98L427.0,1008.36L428.5,1008.73L429.9,1009.11L431.4,1009.47L432.8,1009.83L434.3,1010.20L435.8,1010.55L437.2,1010.90L438.7,1011.24L440.1,1011.58L441.6,1011.92L443.1,1012.25L444.5,1012.58L446.0,1012.90L447.5,1013.22L448.9,1013.53L450.4,1013.84L451.9,1014.15L453.3,1014.45L454.8,1014.75L456.3,1015.04L457.7,1015.33L459.2,1015.62L460.7,1015.89L462.2,1016.18L463.6,1016.45L465.1,1016.72L466.6,1016.98L468.1,1017.25L469.5,1017.50L471.0,1017.76L472.5,1018.02L474.0,1018.26L475.5,1018.51L476.9,1018.75L478.4,1018.99L479.9,1019.23L481.4,1019.45L482.9,1019.69L484.4,1019.91L485.8,1020.13L487.3,1020.35L488.8,1020.57L490.3,1020.78L491.8,1021.00L493.3,1021.21L494.7,1021.41L496.2,1021.61L497.7,1021.81L499.2,1022.01L500.7,1022.20L502.2,1022.39L503.7,1022.59L505.2,1022.77L506.6,1022.95L508.1,1023.14L509.6,1023.32L511.1,1023.50L512.6,1023.68L514.1,1023.85L515.6,1024.02L517.1,1024.19L518.6,1024.36L520.1,1024.53L521.5,1024.69L523.0,1024.85L524.5,1025.01L526.0,1025.17L527.5,1025.33L529.0,1025.49L530.5,1025.64L532.0,1025.80L533.5,1025.95L535.0,1026.10L536.5,1026.25L538.0,1026.40L539.4,1026.54L540.9,1026.69L542.4,1026.84L543.9,1026.98L545.4,1027.12L546.9,1027.26L548.4,1027.41L549.9,1027.55L551.4,1027.68L552.9,1027.82L554.4,1027.95L555.9,1028.09L557.4,1028.22L558.9,1028.36L560.4,1028.49L561.9,1028.62L563.3,1028.74L564.8,1028.87L566.3,1029.00L567.8,1029.13L569.3,1029.25L570.8,1029.38L572.3,1029.50L573.8,1029.62L575.3,1029.74L576.8,1029.86L578.3,1029.98L579.8,1030.10L581.3,1030.21L582.8,1030.33L584.3,1030.45L585.8,1030.56L587.3,1030.67L588.8,1030.79L590.3,1030.90L591.8,1031.01L593.3,1031.12L594.8,1031.23L596.2,1031.33L597.7,1031.44L599.2,1031.54L600.7,1031.65L602.2,1031.75L603.7,1031.86L605.2,1031.96L606.7,1032.06L608.2,1032.16L609.7,1032.26L611.2,1032.36L612.7,1032.46L614.2,1032.55L615.7,1032.65L617.2,1032.74L618.7,1032.84L620.2,1032.93L621.7,1033.02L623.2,1033.12L624.7,1033.21L626.2,1033.30L627.7,1033.39L629.2,1033.48L630.7,1033.57L632.2,1033.65L633.7,1033.74L635.2,1033.83L636.7,1033.91L638.2,1034.00L639.7,1034.08L641.2,1034.16L642.7,1034.25L644.2,1034.33L645.7,1034.41L647.1,1034.49L648.6,1034.57L650.1,1034.65L651.6,1034.73L653.1,1034.80L654.6,1034.88L656.1,1034.96L657.6,1035.03L659.1,1035.11L660.6,1035.18L662.1,1035.26L663.6,1035.33L665.1,1035.40L666.6,1035.48L668.1,1035.55L669.6,1035.62L671.1,1035.69L672.6,1035.76L674.1,1035.83L675.6,1035.90L677.1,1035.97L678.6,1036.04L680.1,1036.10L681.6,1036.17L683.1,1036.24L684.6,1036.30L686.1,1036.37L687.6,1036.43L689.1,1036.49L690.6,1036.56L692.1,1036.62L693.6,1036.69L695.1,1036.75L696.6,1036.81L698.1,1036.87L699.6,1036.93L701.1,1036.99L702.6,1037.06L704.1,1037.12L705.6,1037.17L707.1,1037.23L708.6,1037.29L710.1,1037.35L711.6,1037.41L713.1,1037.47L714.6,1037.53L716.1,1037.58L717.6,1037.64L719.1,1037.70L720.6,1037.75L722.1,1037.81L723.6,1037.86L725.1,1037.92L726.6,1037.97L728.1,1038.03L729.6,1038.08L731.1,1038.14L732.6,1038.19L734.1,1038.24L735.6,1038.30L737.1,1038.35L738.6,1038.40L740.1,1038.46L741.6,1038.51L743.1,1038.56L744.6,1038.61L746.1,1038.67L747.6,1038.72L749.1,1038.77L750.6,1038.82L752.1,1038.87L753.6,1038.92L755.1,1038.97L756.6,1039.02L758.1,1039.07L759.6,1039.12L761.0,1039.17L762.5,1039.22L764.0,1039.27L765.5,1039.32L767.0,1039.37L768.5,1039.42L770.0,1039.47L771.5,1039.51L773.0,1039.56L774.5,1039.61L776.0,1039.66L777.5,1039.71L779.0,1039.75L780.5,1039.80L782.0,1039.85L783.5,1039.89L785.0,1039.94L786.5,1039.99L788.0,1040.03L789.5,1040.08L791.0,1040.13L792.5,1040.17L794.0,1040.22L795.5,1040.26L797.0,1040.31L798.5,1040.35L800.0,1040.40L801.5,1040.44L803.0,1040.49L804.5,1040.53L806.0,1040.57L807.5,1040.62L809.0,1040.66L810.5,1040.71L812.0,1040.75L813.5,1040.79L815.0,1040.83L816.5,1040.88L818.0,1040.92L819.5,1040.96L821.0,1041.01L822.5,1041.05L824.0,1041.09L825.5,1041.13L827.0,1041.17L828.5,1041.21L830.0,1041.25L831.5,1041.30L833.0,1041.34L834.5,1041.38L836.0,1041.42L837.5,1041.46L839.0,1041.50L840.5,1041.54L842.0,1041.58L843.5,1041.62L845.0,1041.66L846.5,1041.70L848.0,1041.74L849.5,1041.77L851.0,1041.81L852.5,1041.85L854.0,1041.89L855.5,1041.93L857.0,1041.97L858.5,1042.01L860.0,1042.04L861.5,1042.08L863.0,1042.12L864.5,1042.16L866.0,1042.19L867.5,1042.23L869.0,1042.27L870.5,1042.30L872.0,1042.34L873.5,1042.38L875.0,1042.41L876.5,1042.45L878.0,1042.48L879.5,1042.52L881.0,1042.56L882.5,1042.59L884.0,1042.63L885.5,1042.66L887.0,1042.70L888.5,1042.73L890.0,1042.76L891.5,1042.80L893.0,1042.83L894.5,1042.87L896.0,1042.90L897.5,1042.94L899.0,1042.97L900.5,1043.00L902.0,1043.04L903.5,1043.07L905.0,1043.10L906.5,1043.14L908.0,1043.17L909.5,1043.20L911.0,1043.23L912.5,1043.27L914.0,1043.30L915.5,1043.33L917.0,1043.36L918.5,1043.39L920.0,1043.43L921.5,1043.46L923.0,1043.49L924.5,1043.52L926.0,1043.55L927.5,1043.58L929.0,1043.61L930.5,1043.64L932.0,1043.67L933.5,1043.70L935.0,1043.73L936.5,1043.77L938.0,1043.80L939.5,1043.82L941.0,1043.85L942.5,1043.88L944.0,1043.91L945.5,1043.94L947.0,1043.97L948.5,1044.00L950.0,1044.03L951.5,1044.06L953.0,1044.09L954.5,1044.12L956.0,1044.14L957.5,1044.17L959.0,1044.20L960.5,1044.23L962.0,1044.26L963.5,1044.28L965.0,1044.31L966.5,1044.34L968.0,1044.37L969.5,1044.39L971.0,1044.42L972.5,1044.45L974.0,1044.48L975.5,1044.50L977.0,1044.53L978.5,1044.56L980.0,1044.58L981.5,1044.61L983.0,1044.63L984.5,1044.66L986.0,1044.69L987.5,1044.71L989.0,1044.74L990.5,1044.76L992.0,1044.79L993.5,1044.81L995.0,1044.84L996.5,1044.87L998.0,1044.89L999.5,1044.92L1001.0,1044.94L1002.5,1044.96L1004.0,1044.99L1005.5,1045.01L1007.0,1045.04L1008.5,1045.06L1010.0,1045.09L1011.5,1045.11L1013.0,1045.13L1014.5,1045.16L1016.0,1045.18L1017.5,1045.21L1019.0,1045.23L1020.5,1045.25L1022.0,1045.28L1023.5,1045.30L1025.0,1045.32L1026.5,1045.34L1028.0,1045.37L1029.5,1045.39L1031.0,1045.41L1032.5,1045.43L1034.0,1045.46L1035.5,1045.48L1037.0,1045.50L1038.5,1045.52L1040.0,1045.55L1041.5,1045.57L1043.0,1045.59L1044.5,1045.61L1046.0,1045.63L1047.5,1045.65L1049.0,1045.68L1050.5,1045.70L1052.0,1045.72L1053.5,1045.74L1055.0,1045.76L1056.5,1045.78L1058.0,1045.80L1059.5,1045.82L1061.0,1045.84L1062.5,1045.86L1064.0,1045.89L1065.5,1045.91L1067.0,1045.93L1068.5,1045.95L1070.0,1045.97L1071.5,1045.99L1073.0,1046.01L1074.5,1046.03L1076.0,1046.05L1077.5,1046.07L1079.0,1046.09L1080.5,1046.10L1082.0,1046.12L1083.5,1046.14L1085.0,1046.16L1086.5,1046.18L1088.0,1046.20L1089.5,1046.22L1091.0,1046.24L1092.5,1046.26L1094.0,1046.28L1095.5,1046.30L1097.0,1046.31L1098.5,1046.33L1100.0,1046.35L1101.5,1046.37L1103.0,1046.39L1104.5,1046.41L1106.0,1046.42L1107.5,1046.44L1109.0,1046.46L1110.5,1046.48L1112.0,1046.50L1113.5,1046.51L1115.0,1046.53L1116.5,1046.55L1118.0,1046.57L1119.5,1046.58L1121.0,1046.60L1122.5,1046.62L1124.0,1046.64L1125.5,1046.65L1127.0,1046.67L1128.5,1046.69L1130.0,1046.70L1131.5,1046.72L1133.0,1046.74L1134.5,1046.76L1136.0,1046.77L1137.5,1046.79L1139.0,1046.81L1140.5,1046.82L1142.0,1046.84L1143.5,1046.86L1145.0,1046.87L1146.5,1046.89L1148.0,1046.90L1149.5,1046.92L1151.0,1046.94L1152.5,1046.95L1154.0,1046.97L1155.5,1046.98L1157.0,1047.00L1158.5,1047.02L1160.0,1047.03L1161.5,1047.05L1163.0,1047.06L1164.5,1047.08L1166.0,1047.09L1167.5,1047.11L1169.0,1047.13L1170.5,1047.14L1172.0,1047.16L1173.5,1047.17L1175.0,1047.19L1176.5,1047.20L1178.0,1047.22L1179.5,1047.23L1181.0,1047.25L1182.5,1047.26L1184.0,1047.28L1185.5,1047.29L1187.0,1047.31L1188.5,1047.32L1190.0,1047.34L1191.5,1047.35L1193.0,1047.37L1194.5,1047.38L1196.0,1047.40L1197.5,1047.41L1199.0,1047.42L1200.5,1047.44L1202.0,1047.45L1203.5,1047.47L1205.0,1047.48L1206.5,1047.50L1208.0,1047.51L1209.5,1047.52L1211.0,1047.54L1212.5,1047.55L1214.0,1047.57L1215.5,1047.58L1217.0,1047.60L1218.5,1047.61L1220.0,1047.62L1221.5,1047.64L1223.0,1047.65L1224.5,1047.67L1226.0,1047.68L1227.5,1047.69L1229.0,1047.71L1230.5,1047.72L1232.0,1047.73L1233.5,1047.75L1235.0,1047.76L1236.5,1047.77L1238.0,1047.79L1239.5,1047.80L1241.0,1047.82L1242.5,1047.83L1244.0,1047.84L1245.5,1047.86L1247.0,1047.87L1248.5,1047.88L1250.0,1047.90L1251.5,1047.91L1253.0,1047.92L1254.5,1047.94L1256.0,1047.95L1257.5,1047.96L1259.0,1047.98L1260.5,1047.99L1262.0,1048.00L1263.5,1048.02L1265.0,1048.03L1266.5,1048.04L1268.0,1048.05L1269.5,1048.07L1271.0,1048.08L1272.5,1048.09L1274.0,1048.11L1275.5,1048.12L1277.0,1048.13L1278.5,1048.15L1280.0,1048.16L1281.5,1048.17L1283.0,1048.19L1284.5,1048.20L1286.0,1048.21L1287.5,1048.22L1289.0,1048.24L1290.5,1048.25L1292.0,1048.26L1293.5,1048.28L1295.0,1048.29L1296.5,1048.30L1298.0,1048.31L1299.5,1048.33L1301.0,1048.34L1302.5,1048.35L1304.0,1048.37L1305.5,1048.38L1307.0,1048.39L1308.5,1048.40L1310.0,1048.42L1311.5,1048.43L1313.0,1048.44L1314.5,1048.46L1316.0,1048.47L1317.5,1048.48L1319.0,1048.49L1320.5,1048.51L1322.0,1048.52L1323.5,1048.53L1325.0,1048.55L1326.5,1048.56L1328.0,1048.57L1329.5,1048.58L1331.0,1048.60L1332.5,1048.61L1334.0,1048.62L1335.5,1048.64L1337.0,1048.65L1338.5,1048.66L1340.0,1048.67L1341.5,1048.69L1343.0,1048.70L1344.5,1048.71L1346.0,1048.73L1347.5,1048.74L1349.0,1048.75L1350.5,1048.77L1352.0,1048.78L1353.5,1048.79L1355.0,1048.80L1356.5,1048.82L1358.0,1048.83L1359.5,1048.84L1361.0,1048.86L1362.5,1048.87L1364.0,1048.88L1365.5,1048.90L1367.0,1048.91L1368.5,1048.92L1370.0,1048.94L1371.5,1048.95L1373.0,1048.96L1374.5,1048.98L1376.0,1048.99L1377.5,1049.00L1379.0,1049.02L1380.5,1049.03L1382.0,1049.04L1383.5,1049.06L1385.0,1049.07L1386.5,1049.08L1388.0,1049.10L1389.5,1049.11L1391.0,1049.12L1392.5,1049.14L1394.0,1049.15L1395.5,1049.16L1397.0,1049.18L1398.5,1049.19L1400.0,1049.20L1401.5,1049.22L1403.0,1049.23L1404.5,1049.25L1406.0,1049.26L1407.5,1049.27L1409.0,1049.29L1410.5,1049.30L1412.0,1049.31L1413.5,1049.33L1415.0,1049.34L1416.5,1049.36L1418.0,1049.37L1419.5,1049.38L1421.0,1049.40L1422.5,1049.41L1424.0,1049.43L1425.5,1049.44L1427.0,1049.46L1428.5,1049.47L1430.0,1049.48L1431.5,1049.50L1433.0,1049.51L1434.5,1049.53L1436.0,1049.54L1437.5,1049.56L1439.0,1049.57L1440.5,1049.59L1442.0,1049.60L1443.5,1049.62L1445.0,1049.63L1446.5,1049.65L1448.0,1049.66L1449.5,1049.68L1451.0,1049.69L1452.5,1049.71L1454.0,1049.72L1455.5,1049.74L1457.0,1049.75L1458.5,1049.77L1460.0,1049.78L1461.5,1049.80L1463.0,1049.81L1464.5,1049.83L1466.0,1049.84L1467.5,1049.86L1469.0,1049.87L1470.5,1049.89L1472.0,1049.91L1473.5,1049.92L1475.0,1049.94L1476.5,1049.95L1478.0,1049.97L1479.5,1049.99L1480.9,1050.00L1482.4,1050.02L1483.9,1050.03L1485.4,1050.05L1486.9,1050.07L1488.4,1050.08L1489.9,1050.10L1491.4,1050.12L1492.9,1050.13L1494.4,1050.15L1495.9,1050.17L1497.4,1050.18L1498.9,1050.20L1500.4,1050.22L1501.9,1050.23L1503.4,1050.25L1504.9,1050.27L1506.4,1050.28L1507.9,1050.30L1509.4,1050.32L1510.9,1050.34L1512.4,1050.35L1513.9,1050.37L1515.4,1050.39L1516.9,1050.41L1518.4,1050.42L1519.9,1050.44L1521.4,1050.46L1522.9,1050.48L1524.4,1050.49L1525.9,1050.51L1527.4,1050.53L1528.9,1050.55L1530.4,1050.57L1531.9,1050.59L1533.4,1050.60L1534.9,1050.62L1536.4,1050.64L1537.9,1050.66L1539.4,1050.68L1540.9,1050.70L1542.4,1050.72L1543.9,1050.74L1545.4,1050.76L1546.9,1050.77L1548.4,1050.79L1549.9,1050.81L1551.4,1050.83L1552.9,1050.85L1554.4,1050.87L1555.9,1050.89L1557.4,1050.91L1558.9,1050.93L1560.4,1050.95L1561.9,1050.97L1563.0,1050.99" stroke="#0000ee" stroke-width="6.5" fill="none" stroke-linejoin="round"/>
<path d="M196.6,1092.85L197.9,1092.00L199.1,1091.14L200.3,1090.20L201.5,1089.23L202.6,1088.24L203.7,1087.19L204.7,1086.12L205.7,1085.04L206.7,1083.92L207.7,1082.79L208.6,1081.62L209.6,1080.39L210.5,1079.18L211.3,1077.99L212.2,1076.76L213.0,1075.49L213.8,1074.26L214.6,1072.99L215.4,1071.67L216.2,1070.41L216.9,1069.11L217.7,1067.78L218.4,1066.50L219.1,1065.19L219.8,1063.86L220.5,1062.49L221.1,1061.19L221.8,1059.76L222.5,1058.41L223.1,1057.13L223.7,1055.73L224.3,1054.40L225.0,1052.94L225.6,1051.57L226.2,1050.17L226.7,1048.87L227.3,1047.43L227.9,1046.09L228.4,1044.73L229.0,1043.34L229.5,1041.94L230.1,1040.53L230.6,1039.09L231.2,1037.64L231.7,1036.30L232.2,1034.82L232.7,1033.46L233.2,1032.08L233.7,1030.69L234.2,1029.29L234.7,1027.88L235.2,1026.46L235.7,1025.02L236.2,1023.58L236.7,1022.12L237.2,1020.66L237.7,1019.33L238.2,1017.84L238.6,1016.50L239.1,1015.00L239.6,1013.64L240.1,1012.13L240.5,1010.76L241.0,1009.38L241.5,1007.84L241.9,1006.45L242.4,1005.06L242.8,1003.66L243.3,1002.25L243.7,1000.84L244.2,999.41L244.6,997.98L245.1,996.55L245.5,995.10L246.0,993.64L246.4,992.18L246.9,990.70L247.3,989.38L247.7,987.88L248.2,986.37L248.6,985.02L249.0,983.49L249.4,982.12L249.8,980.74L250.3,979.17L250.7,977.77L251.1,976.36L251.5,974.95L251.9,973.54L252.3,971.94L252.7,970.51L253.1,969.09L253.5,967.66L253.9,966.24L254.3,964.81L254.7,963.39L255.1,961.97L255.6,960.38L256.0,958.97L256.4,957.56L256.8,956.16L257.2,954.60L257.6,953.22L258.0,951.85L258.5,950.32L258.9,948.98L259.3,947.48L259.8,946.00L260.2,944.70L260.6,943.26L261.1,941.84L261.6,940.29L262.0,938.92L262.5,937.57L263.0,936.11L263.5,934.68L264.0,933.29L264.5,931.81L265.0,930.51L265.6,929.12L266.2,927.68L266.8,926.30L267.4,924.99L268.1,923.56L268.7,922.32L269.5,921.02L270.3,919.71L271.2,918.51L272.2,917.41L273.3,916.47L274.7,915.72L276.1,915.39L277.6,915.55L279.0,916.17L280.2,917.05L281.2,918.10L282.2,919.25L283.1,920.53L283.9,921.80L284.6,923.12L285.3,924.44L286.0,925.75L286.6,927.13L287.2,928.47L287.8,929.87L288.4,931.21L289.0,932.71L289.5,934.00L290.0,935.46L290.5,936.82L291.0,938.21L291.5,939.63L292.0,941.07L292.5,942.53L293.0,944.02L293.5,945.37L293.9,946.74L294.4,948.28L294.9,949.68L295.3,951.09L295.8,952.50L296.2,953.93L296.7,955.36L297.1,956.80L297.6,958.24L298.0,959.68L298.5,961.13L298.9,962.57L299.4,964.01L299.8,965.46L300.3,966.89L300.7,968.32L301.2,969.75L301.6,971.17L302.1,972.58L302.5,973.98L303.0,975.37L303.4,976.76L303.9,978.29L304.4,979.66L304.9,981.17L305.3,982.52L305.8,984.01L306.3,985.34L306.8,986.81L307.3,988.26L307.7,989.56L308.2,990.99L308.7,992.40L309.2,993.81L309.8,995.33L310.3,996.71L310.8,998.07L311.3,999.56L311.8,1000.89L312.4,1002.35L312.9,1003.66L313.4,1005.08L314.0,1006.49L314.5,1007.89L315.1,1009.27L315.6,1010.64L316.2,1012.12L316.8,1013.45L317.4,1014.90L317.9,1016.21L318.5,1017.62L319.1,1019.01L319.7,1020.39L320.3,1021.76L320.9,1023.11L321.5,1024.44L322.2,1025.87L322.8,1027.17L323.4,1028.56L324.1,1029.94L324.7,1031.29L325.4,1032.64L326.0,1033.96L326.7,1035.27L327.4,1036.66L328.0,1037.93L328.7,1039.29L329.4,1040.63L330.1,1041.95L330.8,1043.25L331.6,1044.63L332.3,1045.90L333.0,1047.24L333.8,1048.57L334.5,1049.80L335.2,1051.10L336.0,1052.40L336.7,1053.68L337.5,1055.05L338.3,1056.32L339.0,1057.58L339.8,1058.92L340.6,1060.17L341.4,1061.47L342.1,1062.69L342.9,1063.96L343.8,1065.28L344.6,1066.50L345.4,1067.76L346.3,1068.99L347.1,1070.18L348.0,1071.39L349.0,1072.63L349.9,1073.76L350.8,1074.91L351.8,1076.08L352.8,1077.21L353.8,1078.30L354.9,1079.41L355.9,1080.43L357.0,1081.52L358.0,1082.53L359.1,1083.56L360.2,1084.56L361.4,1085.59L362.5,1086.56L363.6,1087.54L364.8,1088.50L365.9,1089.44L367.1,1090.40L368.3,1091.30L369.5,1092.21L370.7,1093.10L371.9,1094.01L373.1,1094.86L374.4,1095.73L375.6,1096.57L376.9,1097.40L378.1,1098.20L379.4,1098.99L380.7,1099.79L382.0,1100.57L383.2,1101.30L384.5,1102.05L385.9,1102.80L387.2,1103.52L388.5,1104.21L389.8,1104.92L391.2,1105.61L392.5,1106.27L393.8,1106.93L395.2,1107.59L396.5,1108.23L397.9,1108.89L399.3,1109.51L400.6,1110.12L402.0,1110.74L403.4,1111.34L404.8,1111.95L406.1,1112.52L407.5,1113.11L408.9,1113.67L410.3,1114.25L411.7,1114.81L413.1,1115.36L414.5,1115.91L415.9,1116.45L417.3,1116.97L418.7,1117.49L420.1,1118.01L421.5,1118.51L422.9,1119.02L424.3,1119.51L425.7,1119.99L427.2,1120.48L428.6,1120.94L430.0,1121.41L431.5,1121.88L432.9,1122.32L434.3,1122.77L435.7,1123.19L437.2,1123.62L438.6,1124.05L440.1,1124.47L441.5,1124.88L443.0,1125.28L444.4,1125.67L445.9,1126.06L447.3,1126.44L448.8,1126.82L450.2,1127.18L451.7,1127.54L453.1,1127.90L454.6,1128.24L456.0,1128.58L457.5,1128.93L459.0,1129.26L460.4,1129.58L461.9,1129.89L463.4,1130.21L464.8,1130.52L466.3,1130.82L467.8,1131.11L469.2,1131.40L470.7,1131.69L472.2,1131.96L473.7,1132.24L475.1,1132.51L476.6,1132.77L478.1,1133.03L479.6,1133.28L481.1,1133.53L482.5,1133.77L484.0,1134.01L485.5,1134.24L487.0,1134.47L488.5,1134.70L489.9,1134.92L491.4,1135.14L492.9,1135.35L494.4,1135.55L495.9,1135.76L497.4,1135.96L498.9,1136.16L500.3,1136.35L501.8,1136.54L503.3,1136.73L504.8,1136.91L506.3,1137.09L507.8,1137.26L509.3,1137.43L510.8,1137.61L512.3,1137.77L513.8,1137.94L515.2,1138.10L516.7,1138.26L518.2,1138.41L519.7,1138.57L521.2,1138.72L522.7,1138.87L524.2,1139.01L525.7,1139.16L527.2,1139.30L528.7,1139.45L530.2,1139.59L531.7,1139.73L533.2,1139.86L534.7,1140.00L536.1,1140.13L537.6,1140.26L539.1,1140.40L540.6,1140.53L542.1,1140.66L543.6,1140.79L545.1,1140.92L546.6,1141.04L548.1,1141.17L549.6,1141.29L551.1,1141.42L552.6,1141.54L554.1,1141.66L555.6,1141.78L557.1,1141.90L558.6,1142.02L560.1,1142.14L561.6,1142.25L563.1,1142.37L564.5,1142.48L566.0,1142.60L567.5,1142.71L569.0,1142.82L570.5,1142.93L572.0,1143.04L573.5,1143.15L575.0,1143.26L576.5,1143.37L578.0,1143.47L579.5,1143.58L581.0,1143.68L582.5,1143.79L584.0,1143.88L585.5,1143.99L587.0,1144.09L588.5,1144.19L590.0,1144.29L591.5,1144.38L593.0,1144.48L594.5,1144.58L596.0,1144.67L597.5,1144.77L599.0,1144.86L600.5,1144.95L602.0,1145.05L603.5,1145.14L605.0,1145.23L606.5,1145.32L607.9,1145.40L609.4,1145.49L610.9,1145.58L612.4,1145.67L613.9,1145.75L615.4,1145.84L616.9,1145.92L618.4,1146.01L619.9,1146.09L621.4,1146.17L622.9,1146.25L624.4,1146.33L625.9,1146.41L627.4,1146.49L628.9,1146.57L630.4,1146.65L631.9,1146.73L633.4,1146.80L634.9,1146.88L636.4,1146.96L637.9,1147.03L639.4,1147.10L640.9,1147.18L642.4,1147.25L643.9,1147.32L645.4,1147.39L646.9,1147.46L648.4,1147.53L649.9,1147.60L651.4,1147.67L652.9,1147.74L654.4,1147.81L655.9,1147.88L657.4,1147.94L658.9,1148.01L660.4,1148.08L661.9,1148.14L663.4,1148.21L664.9,1148.27L666.4,1148.33L667.9,1148.40L669.4,1148.46L670.9,1148.52L672.4,1148.58L673.9,1148.64L675.4,1148.71L676.9,1148.77L678.4,1148.83L679.9,1148.88L681.4,1148.94L682.9,1149.00L684.4,1149.06L685.9,1149.12L687.4,1149.18L688.9,1149.23L690.4,1149.29L691.9,1149.34L693.4,1149.40L694.9,1149.46L696.4,1149.51L697.9,1149.57L699.4,1149.62L700.8,1149.67L702.3,1149.73L703.8,1149.78L705.3,1149.83L706.8,1149.88L708.3,1149.94L709.8,1149.99L711.3,1150.04L712.8,1150.09L714.3,1150.14L715.8,1150.19L717.3,1150.24L718.8,1150.29L720.3,1150.34L721.8,1150.39L723.3,1150.44L724.8,1150.49L726.3,1150.54L727.8,1150.59L729.3,1150.64L730.8,1150.69L732.3,1150.74L733.8,1150.78L735.3,1150.83L736.8,1150.88L738.3,1150.93L739.8,1150.97L741.3,1151.02L742.8,1151.07L744.3,1151.12L745.8,1151.16L747.3,1151.21L748.8,1151.25L750.3,1151.30L751.8,1151.35L753.3,1151.39L754.8,1151.44L756.3,1151.49L757.8,1151.53L759.3,1151.58L760.8,1151.62L762.3,1151.67L763.8,1151.71L765.3,1151.76L766.8,1151.80L768.3,1151.85L769.8,1151.89L771.3,1151.94L772.8,1151.98L774.3,1152.02L775.8,1152.07L777.3,1152.11L778.8,1152.16L780.3,1152.20L781.8,1152.24L783.3,1152.29L784.8,1152.33L786.3,1152.37L787.8,1152.41L789.3,1152.46L790.8,1152.50L792.3,1152.54L793.8,1152.59L795.3,1152.63L796.8,1152.67L798.3,1152.71L799.8,1152.75L801.3,1152.80L802.8,1152.84L804.3,1152.88L805.8,1152.92L807.3,1152.96L808.8,1153.00L810.3,1153.04L811.8,1153.08L813.3,1153.12L814.8,1153.16L816.3,1153.20L817.8,1153.24L819.3,1153.28L820.8,1153.32L822.3,1153.36L823.8,1153.40L825.3,1153.44L826.8,1153.48L828.3,1153.52L829.8,1153.56L831.3,1153.60L832.8,1153.64L834.3,1153.68L835.8,1153.72L837.3,1153.76L838.8,1153.80L840.3,1153.83L841.8,1153.87L843.3,1153.91L844.8,1153.95L846.3,1153.99L847.8,1154.02L849.3,1154.06L850.8,1154.10L852.3,1154.14L853.8,1154.17L855.3,1154.21L856.8,1154.25L858.3,1154.29L859.8,1154.32L861.3,1154.36L862.8,1154.40L864.3,1154.43L865.8,1154.47L867.3,1154.50L868.8,1154.54L870.3,1154.58L871.8,1154.61L873.3,1154.65L874.8,1154.68L876.3,1154.72L877.8,1154.75L879.3,1154.79L880.8,1154.82L882.3,1154.86L883.8,1154.89L885.3,1154.93L886.8,1154.96L888.3,1155.00L889.8,1155.03L891.3,1155.07L892.8,1155.10L894.3,1155.14L895.8,1155.17L897.3,1155.20L898.8,1155.24L900.3,1155.27L901.8,1155.30L903.3,1155.34L904.8,1155.37L906.3,1155.40L907.8,1155.44L909.3,1155.47L910.8,1155.50L912.3,1155.54L913.8,1155.57L915.3,1155.60L916.8,1155.63L918.3,1155.66L919.8,1155.70L921.3,1155.73L922.8,1155.76L924.3,1155.79L925.8,1155.82L927.3,1155.86L928.8,1155.89L930.3,1155.92L931.8,1155.95L933.3,1155.98L934.8,1156.01L936.3,1156.04L937.8,1156.07L939.3,1156.10L940.8,1156.13L942.3,1156.17L943.8,1156.20L945.3,1156.23L946.8,1156.26L948.3,1156.29L949.8,1156.32L951.3,1156.35L952.8,1156.38L954.3,1156.41L955.8,1156.43L957.3,1156.46L958.8,1156.49L960.3,1156.52L961.8,1156.55L963.3,1156.58L964.8,1156.61L966.3,1156.64L967.8,1156.67L969.3,1156.70L970.8,1156.72L972.3,1156.75L973.8,1156.78L975.3,1156.81L976.8,1156.84L978.3,1156.86L979.8,1156.89L981.3,1156.92L982.8,1156.95L984.3,1156.98L985.8,1157.00L987.3,1157.03L988.8,1157.06L990.3,1157.08L991.8,1157.11L993.3,1157.14L994.8,1157.16L996.3,1157.19L997.7,1157.22L999.2,1157.24L1000.7,1157.27L1002.2,1157.30L1003.7,1157.32L1005.2,1157.35L1006.7,1157.37L1008.2,1157.40L1009.7,1157.43L1011.2,1157.45L1012.7,1157.48L1014.2,1157.50L1015.7,1157.53L1017.2,1157.55L1018.7,1157.58L1020.2,1157.60L1021.7,1157.63L1023.2,1157.65L1024.7,1157.68L1026.2,1157.70L1027.7,1157.73L1029.2,1157.75L1030.7,1157.78L1032.2,1157.80L1033.7,1157.83L1035.2,1157.85L1036.7,1157.87L1038.2,1157.90L1039.7,1157.92L1041.2,1157.95L1042.7,1157.97L1044.2,1157.99L1045.7,1158.02L1047.2,1158.04L1048.7,1158.06L1050.2,1158.09L1051.7,1158.11L1053.2,1158.13L1054.7,1158.16L1056.2,1158.18L1057.7,1158.20L1059.2,1158.22L1060.7,1158.25L1062.2,1158.27L1063.7,1158.29L1065.2,1158.31L1066.7,1158.34L1068.2,1158.36L1069.7,1158.38L1071.2,1158.40L1072.7,1158.43L1074.2,1158.45L1075.7,1158.47L1077.2,1158.49L1078.7,1158.51L1080.2,1158.53L1081.7,1158.55L1083.2,1158.58L1084.7,1158.60L1086.2,1158.62L1087.7,1158.64L1089.2,1158.66L1090.7,1158.68L1092.2,1158.70L1093.7,1158.72L1095.2,1158.74L1096.7,1158.76L1098.2,1158.78L1099.7,1158.80L1101.2,1158.83L1102.7,1158.85L1104.2,1158.87L1105.7,1158.89L1107.2,1158.91L1108.7,1158.93L1110.2,1158.94L1111.7,1158.96L1113.2,1158.98L1114.7,1159.00L1116.2,1159.02L1117.7,1159.04L1119.2,1159.06L1120.7,1159.08L1122.2,1159.10L1123.7,1159.12L1125.2,1159.14L1126.7,1159.16L1128.2,1159.18L1129.7,1159.19L1131.2,1159.21L1132.7,1159.23L1134.2,1159.25L1135.7,1159.27L1137.2,1159.29L1138.7,1159.31L1140.2,1159.32L1141.7,1159.34L1143.2,1159.36L1144.7,1159.38L1146.2,1159.40L1147.7,1159.41L1149.2,1159.43L1150.7,1159.45L1152.2,1159.47L1153.7,1159.48L1155.2,1159.50L1156.7,1159.52L1158.2,1159.54L1159.7,1159.55L1161.2,1159.57L1162.7,1159.59L1164.2,1159.60L1165.7,1159.62L1167.2,1159.64L1168.7,1159.65L1170.2,1159.67L1171.7,1159.69L1173.2,1159.70L1174.7,1159.72L1176.2,1159.74L1177.7,1159.75L1179.2,1159.77L1180.7,1159.79L1182.2,1159.80L1183.7,1159.82L1185.2,1159.83L1186.7,1159.85L1188.2,1159.87L1189.7,1159.88L1191.2,1159.90L1192.7,1159.91L1194.2,1159.93L1195.7,1159.94L1197.2,1159.96L1198.7,1159.97L1200.2,1159.99L1201.7,1160.01L1203.2,1160.02L1204.7,1160.04L1206.2,1160.05L1207.7,1160.07L1209.2,1160.08L1210.7,1160.09L1212.2,1160.11L1213.7,1160.12L1215.2,1160.14L1216.7,1160.15L1218.2,1160.17L1219.7,1160.18L1221.2,1160.20L1222.7,1160.21L1224.2,1160.23L1225.7,1160.24L1227.2,1160.25L1228.7,1160.27L1230.2,1160.28L1231.7,1160.30L1233.2,1160.31L1234.7,1160.32L1236.2,1160.34L1237.7,1160.35L1239.2,1160.36L1240.7,1160.38L1242.2,1160.39L1243.7,1160.40L1245.2,1160.42L1246.7,1160.43L1248.2,1160.44L1249.7,1160.46L1251.2,1160.47L1252.7,1160.48L1254.2,1160.50L1255.7,1160.51L1257.2,1160.52L1258.7,1160.54L1260.2,1160.55L1261.7,1160.56L1263.2,1160.57L1264.7,1160.59L1266.2,1160.60L1267.7,1160.61L1269.2,1160.62L1270.7,1160.64L1272.2,1160.65L1273.7,1160.66L1275.2,1160.67L1276.7,1160.68L1278.2,1160.70L1279.7,1160.71L1281.2,1160.72L1282.7,1160.73L1284.2,1160.74L1285.7,1160.76L1287.2,1160.77L1288.7,1160.78L1290.2,1160.79L1291.7,1160.80L1293.2,1160.81L1294.7,1160.83L1296.2,1160.84L1297.7,1160.85L1299.2,1160.86L1300.7,1160.87L1302.2,1160.88L1303.7,1160.89L1305.2,1160.90L1306.7,1160.92L1308.2,1160.93L1309.7,1160.94L1311.2,1160.95L1312.7,1160.96L1314.2,1160.97L1315.7,1160.98L1317.2,1160.99L1318.7,1161.00L1320.2,1161.01L1321.7,1161.02L1323.2,1161.03L1324.7,1161.04L1326.2,1161.05L1327.7,1161.06L1329.2,1161.08L1330.7,1161.09L1332.2,1161.10L1333.7,1161.11L1335.2,1161.12L1336.7,1161.13L1338.2,1161.14L1339.7,1161.15L1341.2,1161.16L1342.7,1161.17L1344.2,1161.18L1345.7,1161.19L1347.2,1161.20L1348.7,1161.20L1350.2,1161.21L1351.7,1161.22L1353.2,1161.23L1354.7,1161.24L1356.2,1161.25L1357.7,1161.26L1359.2,1161.27L1360.7,1161.28L1362.2,1161.29L1363.7,1161.30L1365.2,1161.31L1366.7,1161.32L1368.2,1161.33L1369.7,1161.34L1371.2,1161.35L1372.7,1161.35L1374.2,1161.36L1375.7,1161.37L1377.2,1161.38L1378.7,1161.39L1380.2,1161.40L1381.7,1161.41L1383.2,1161.42L1384.7,1161.43L1386.2,1161.43L1387.7,1161.44L1389.2,1161.45L1390.7,1161.46L1392.2,1161.47L1393.7,1161.48L1395.2,1161.49L1396.7,1161.49L1398.2,1161.50L1399.7,1161.51L1401.2,1161.52L1402.7,1161.53L1404.2,1161.54L1405.7,1161.54L1407.2,1161.55L1408.7,1161.56L1410.2,1161.57L1411.7,1161.58L1413.2,1161.58L1414.7,1161.59L1416.2,1161.60L1417.7,1161.61L1419.2,1161.62L1420.7,1161.62L1422.2,1161.63L1423.7,1161.64L1425.2,1161.65L1426.7,1161.65L1428.2,1161.66L1429.7,1161.67L1431.2,1161.68L1432.7,1161.69L1434.2,1161.69L1435.7,1161.70L1437.2,1161.71L1438.7,1161.72L1440.2,1161.72L1441.7,1161.73L1443.2,1161.74L1444.7,1161.74L1446.2,1161.75L1447.7,1161.76L1449.2,1161.77L1450.7,1161.77L1452.2,1161.78L1453.7,1161.79L1455.2,1161.80L1456.7,1161.80L1458.2,1161.81L1459.7,1161.82L1461.2,1161.82L1462.7,1161.83L1464.2,1161.84L1465.7,1161.84L1467.2,1161.85L1468.7,1161.86L1470.2,1161.87L1471.7,1161.87L1473.2,1161.88L1474.7,1161.89L1476.2,1161.89L1477.7,1161.90L1479.2,1161.91L1480.7,1161.91L1482.2,1161.92L1483.7,1161.93L1485.2,1161.93L1486.7,1161.94L1488.2,1161.95L1489.7,1161.95L1491.2,1161.96L1492.7,1161.97L1494.2,1161.97L1495.7,1161.98L1497.2,1161.99L1498.7,1161.99L1500.2,1162.00L1501.7,1162.01L1503.2,1162.01L1504.7,1162.02L1506.2,1162.02L1507.7,1162.03L1509.2,1162.04L1510.7,1162.04L1512.2,1162.05L1513.7,1162.06L1515.2,1162.06L1516.7,1162.07L1518.2,1162.07L1519.7,1162.08L1521.2,1162.09L1522.7,1162.09L1524.2,1162.10L1525.7,1162.11L1527.2,1162.11L1528.7,1162.12L1530.2,1162.12L1531.7,1162.13L1533.2,1162.14L1534.7,1162.14L1536.2,1162.15L1537.7,1162.15L1539.2,1162.16L1540.7,1162.17L1542.2,1162.17L1543.7,1162.18L1545.2,1162.18L1546.7,1162.19L1548.2,1162.20L1549.7,1162.20L1551.2,1162.21L1552.7,1162.21L1554.2,1162.22L1555.7,1162.22L1557.2,1162.23L1558.7,1162.24L1560.2,1162.24L1561.7,1162.25L1563.0,1162.25" stroke="#ff0000" stroke-width="6.5" fill="none" stroke-linejoin="round"/>
<path d="M188.1,890.7H1565.5M188.1,1233.1H1565.5" stroke="#000" stroke-width="3.0" fill="none"/>
<path d="M189.8,890.7V1233.1M1563.8,890.7V1233.1" stroke="#222" stroke-width="3.5" fill="none"/>
<text x="885.6" y="44.8" font-size="37.5" fill="#000" text-anchor="middle" stroke="#000" stroke-width="0.7" letter-spacing="0.7">Energy [eV]</text>
<text transform="translate(190.5,97.8) scale(1,1.065)" font-size="42" class="b" text-anchor="middle">6.2</text>
<text transform="translate(361.6,97.8) scale(1,1.065)" font-size="42" class="b" text-anchor="middle">4.1</text>
<text transform="translate(532.7,97.8) scale(1,1.065)" font-size="42" class="b" text-anchor="middle">3.1</text>
<text transform="translate(703.8,97.8) scale(1,1.065)" font-size="42" class="b" text-anchor="middle">2.5</text>
<text transform="translate(874.9,97.8) scale(1,1.065)" font-size="42" class="b" text-anchor="middle">2.1</text>
<text transform="translate(1046.0,97.8) scale(1,1.065)" font-size="42" class="b" text-anchor="middle">1.8</text>
<text transform="translate(1217.1,97.8) scale(1,1.065)" font-size="42" class="b" text-anchor="middle">1.6</text>
<text transform="translate(1388.2,97.8) scale(1,1.065)" font-size="42" class="b" text-anchor="middle">1.4</text>
<text transform="translate(1559.3,97.8) scale(1,1.065)" font-size="42" class="b" text-anchor="middle">1.2</text>
<text x="188.0" y="1282.5" font-size="36.0" fill="#000" text-anchor="middle" class="b">200</text>
<text x="359.8" y="1282.5" font-size="36.0" fill="#000" text-anchor="middle" class="b">300</text>
<text x="531.5" y="1282.5" font-size="36.0" fill="#000" text-anchor="middle" class="b">400</text>
<text x="703.2" y="1282.5" font-size="36.0" fill="#000" text-anchor="middle" class="b">500</text>
<text x="875.0" y="1282.5" font-size="36.0" fill="#000" text-anchor="middle" class="b">600</text>
<text x="1046.8" y="1282.5" font-size="36.0" fill="#000" text-anchor="middle" class="b">700</text>
<text x="1218.5" y="1282.5" font-size="36.0" fill="#000" text-anchor="middle" class="b">800</text>
<text x="1390.2" y="1282.5" font-size="36.0" fill="#000" text-anchor="middle" class="b">900</text>
<text x="1562.0" y="1282.5" font-size="36.0" fill="#000" text-anchor="middle" class="b">1000</text>
<text x="908.6" y="1334.2" font-size="41.5" fill="#000" text-anchor="middle" class="b">Wavelength [nm]</text>
<text x="169.5" y="139.5" font-size="36.0" fill="#0000e6" text-anchor="end" class="b">20</text>
<text x="1581.0" y="139.5" font-size="36.0" fill="#ff0000" text-anchor="start" class="b">20</text>
<text x="169.5" y="249.0" font-size="36.0" fill="#0000e6" text-anchor="end" class="b">10</text>
<text x="1581.0" y="249.0" font-size="36.0" fill="#ff0000" text-anchor="start" class="b">10</text>
<text x="169.5" y="359.8" font-size="36.0" fill="#0000e6" text-anchor="end" class="b">0</text>
<text x="1581.0" y="359.8" font-size="36.0" fill="#ff0000" text-anchor="start" class="b">0</text>
<text x="169.5" y="469.8" font-size="36.0" fill="#0000e6" text-anchor="end" class="b">-10</text>
<text x="1581.0" y="469.8" font-size="36.0" fill="#ff0000" text-anchor="start" class="b">-10</text>
<text x="167.8" y="509.5" font-size="36.0" fill="#0000e6" text-anchor="end" class="b">20</text>
<text x="1581.0" y="509.5" font-size="36.0" fill="#ff0000" text-anchor="start" class="b">20</text>
<text x="167.6" y="626.3" font-size="36.0" fill="#0000e6" text-anchor="end" class="b">10</text>
<text x="1581.0" y="626.3" font-size="36.0" fill="#ff0000" text-anchor="start" class="b">10</text>
<text x="168.3" y="743.2" font-size="36.0" fill="#0000e6" text-anchor="end" font-weight="normal" stroke-width="1.1" stroke="#0000e6">0</text>
<text x="1581.0" y="743.2" font-size="36.0" fill="#ff0000" text-anchor="start" font-weight="normal" stroke-width="1.1" stroke="#ff0000">0</text>
<text x="168.3" y="859.8" font-size="36.0" fill="#0000e6" text-anchor="end" font-weight="normal" stroke-width="1.1" stroke="#0000e6">-10</text>
<text x="1581.0" y="859.8" font-size="36.0" fill="#ff0000" text-anchor="start" font-weight="normal" stroke-width="1.1" stroke="#ff0000">-10</text>
<text x="167.5" y="900.5" font-size="36.0" fill="#0000e6" text-anchor="end" class="b">8</text>
<text x="1583.5" y="900.5" font-size="36.0" fill="#ff0000" text-anchor="start" class="b">8</text>
<text x="168.0" y="1038.2" font-size="36.0" fill="#0000e6" text-anchor="end" class="b">4</text>
<text x="1583.5" y="1038.2" font-size="36.0" fill="#ff0000" text-anchor="start" class="b">4</text>
<text x="167.8" y="1175.0" font-size="36.0" fill="#0000e6" text-anchor="end" font-weight="normal" stroke-width="1.1" stroke="#0000e6">0</text>
<text x="1584.0" y="1175.0" font-size="36.0" fill="#ff0000" text-anchor="start" font-weight="normal" stroke-width="1.1" stroke="#ff0000">0</text>
<text transform="translate(52.4,692.3) rotate(-90)" font-size="64" fill="#0000e6">e<tspan font-size="36" dy="16">1</tspan></text>
<text transform="translate(1677,696.3) rotate(-90)" font-size="64" fill="#ff0000">e<tspan font-size="36" dy="17">2</tspan></text>
<text x="198.5" y="184.3" font-size="52.0" fill="#000" text-anchor="start">II a</text>
<text x="198.5" y="558.6" font-size="52.0" fill="#000" text-anchor="start">II b</text>
<text x="191.8" y="940.8" font-size="50.0" fill="#000" text-anchor="start">II c</text>
<text x="1506.0" y="446.0" font-size="52.0" fill="#000" text-anchor="start">a</text>
<text x="1510.5" y="827.5" font-size="49.0" fill="#000" text-anchor="start">b</text>
<text x="1520.0" y="1211.0" font-size="52.0" fill="#000" text-anchor="start">c</text>
<line x1="733.0" y1="400.4" x2="850.0" y2="400.4" stroke="#0000ee" stroke-width="6" stroke-linecap="round"/>
<line x1="946.0" y1="400.4" x2="1061.0" y2="400.4" stroke="#ff0000" stroke-width="6" stroke-linecap="round"/>
<text x="861.5" y="417.4" font-size="52">e'<tspan font-size="29.5" dy="17" dx="0.5">a</tspan></text>
<text x="1074.5" y="417.4" font-size="52">e"<tspan font-size="29.5" dy="17" dx="0.5">a</tspan></text>
<line x1="740.0" y1="778.6" x2="854.0" y2="778.6" stroke="#0000ee" stroke-width="6" stroke-linecap="round"/>
<line x1="953.0" y1="778.6" x2="1067.0" y2="778.6" stroke="#ff0000" stroke-width="6" stroke-linecap="round"/>
<text x="868.5" y="795.6" font-size="52">e'<tspan font-size="29.5" dy="17" dx="0.5">b</tspan></text>
<text x="1082.0" y="795.6" font-size="52">e"<tspan font-size="29.5" dy="17" dx="0.5">b</tspan></text>
<line x1="740.0" y1="956.8" x2="855.0" y2="956.8" stroke="#0000ee" stroke-width="6" stroke-linecap="round"/>
<line x1="951.0" y1="956.8" x2="1068.0" y2="956.8" stroke="#ff0000" stroke-width="6" stroke-linecap="round"/>
<text x="868.5" y="973.8" font-size="52">e'<tspan font-size="29.5" dy="17" dx="0.5">c</tspan></text>
<text x="1080.5" y="973.8" font-size="52">e"<tspan font-size="29.5" dy="17" dx="0.5">c</tspan></text>
</svg></body></html>
